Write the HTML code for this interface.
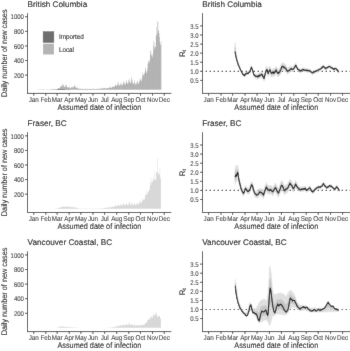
<!DOCTYPE html>
<html><head><meta charset="utf-8"><style>
html,body{margin:0;padding:0;background:#fff;overflow:hidden}
svg{display:block;font-family:"Liberation Sans", sans-serif;filter:grayscale(1);text-rendering:geometricPrecision}
</style></head><body>
<svg width="350" height="351" viewBox="0 0 350 351">
<defs><filter id="bl" x="0" y="0" width="350" height="351" filterUnits="userSpaceOnUse"><feConvolveMatrix order="3" kernelMatrix="0.0052 0.0619 0.0052 0.0619 0.7314 0.0619 0.0052 0.0619 0.0052" edgeMode="duplicate"/></filter></defs>
<g filter="url(#bl)">
<rect width="350" height="351" fill="#fff"/>
<text transform="translate(27.60 7.00)" font-size="8.2" text-anchor="start" fill="#111" stroke="#111" stroke-width="0.12" >British Columbia</text>
<path d="M37.47 89.65h0.35v-0.08h-0.35zM37.86 89.65h0.35v-0.08h-0.35zM38.25 89.65h0.35v-0.11h-0.35zM38.64 89.65h0.35v-0.12h-0.35zM39.03 89.65h0.35v-0.16h-0.35zM39.42 89.65h0.35v-0.13h-0.35zM39.81 89.65h0.35v-0.10h-0.35zM40.20 89.65h0.35v-0.10h-0.35zM40.59 89.65h0.35v-0.10h-0.35zM40.98 89.65h0.35v-0.12h-0.35zM41.36 89.65h0.35v-0.15h-0.35zM41.75 89.65h0.35v-0.18h-0.35zM42.14 89.65h0.35v-0.15h-0.35zM42.53 89.65h0.35v-0.13h-0.35zM42.92 89.65h0.35v-0.11h-0.35zM43.31 89.65h0.35v-0.12h-0.35zM43.70 89.65h0.35v-0.15h-0.35zM44.09 89.65h0.35v-0.19h-0.35zM44.48 89.65h0.35v-0.22h-0.35zM44.87 89.65h0.35v-0.17h-0.35zM45.26 89.65h0.35v-0.15h-0.35zM45.65 89.65h0.35v-0.12h-0.35zM46.04 89.65h0.35v-0.15h-0.35zM46.43 89.65h0.35v-0.16h-0.35zM46.82 89.65h0.35v-0.20h-0.35zM47.21 89.65h0.35v-0.23h-0.35zM47.60 89.65h0.35v-0.19h-0.35zM47.99 89.65h0.35v-0.16h-0.35zM48.38 89.65h0.35v-0.14h-0.35zM48.77 89.65h0.35v-0.16h-0.35zM49.15 89.65h0.35v-0.19h-0.35zM49.54 89.65h0.35v-0.23h-0.35zM49.93 89.65h0.35v-0.28h-0.35zM50.32 89.65h0.35v-0.21h-0.35zM50.71 89.65h0.35v-0.17h-0.35zM51.10 89.65h0.35v-0.15h-0.35zM51.49 89.65h0.35v-0.18h-0.35zM51.88 89.65h0.35v-0.20h-0.35zM52.27 89.65h0.35v-0.25h-0.35zM52.66 89.65h0.35v-0.31h-0.35zM53.05 89.65h0.35v-0.24h-0.35zM53.44 89.65h0.35v-0.19h-0.35zM53.83 89.65h0.35v-0.18h-0.35zM54.22 89.65h0.35v-0.20h-0.35zM54.61 89.65h0.35v-0.22h-0.35zM55.00 89.65h0.35v-0.29h-0.35zM55.39 89.65h0.35v-0.33h-0.35zM55.78 89.65h0.35v-0.28h-0.35zM56.17 89.65h0.35v-0.34h-0.35zM56.56 89.65h0.35v-0.40h-0.35zM56.94 89.65h0.35v-0.61h-0.35zM57.33 89.65h0.35v-0.78h-0.35zM57.72 89.65h0.35v-1.19h-0.35zM58.11 89.65h0.35v-1.67h-0.35zM58.50 89.65h0.35v-1.42h-0.35zM58.89 89.65h0.35v-1.38h-0.35zM59.28 89.65h0.35v-1.37h-0.35zM59.67 89.65h0.35v-1.83h-0.35zM60.06 89.65h0.35v-2.44h-0.35zM60.45 89.65h0.35v-3.25h-0.35zM60.84 89.65h0.35v-4.33h-0.35zM61.23 89.65h0.35v-3.64h-0.35zM61.62 89.65h0.35v-3.31h-0.35zM62.01 89.65h0.35v-3.26h-0.35zM62.40 89.65h0.35v-6.51h-0.35zM62.79 89.65h0.35v-4.05h-0.35zM63.18 89.65h0.35v-4.75h-0.35zM63.57 89.65h0.35v-5.02h-0.35zM63.96 89.65h0.35v-3.35h-0.35zM64.35 89.65h0.35v-2.70h-0.35zM64.73 89.65h0.35v-2.35h-0.35zM65.12 89.65h0.35v-2.88h-0.35zM65.51 89.65h0.35v-5.04h-0.35zM65.90 89.65h0.35v-4.23h-0.35zM66.29 89.65h0.35v-4.54h-0.35zM66.68 89.65h0.35v-3.17h-0.35zM67.07 89.65h0.35v-2.33h-0.35zM67.46 89.65h0.35v-2.03h-0.35zM67.85 89.65h0.35v-1.84h-0.35zM68.24 89.65h0.35v-2.21h-0.35zM68.63 89.65h0.35v-2.53h-0.35zM69.02 89.65h0.35v-2.85h-0.35zM69.41 89.65h0.35v-2.20h-0.35zM69.80 89.65h0.35v-1.82h-0.35zM70.19 89.65h0.35v-1.47h-0.35zM70.58 89.65h0.35v-1.64h-0.35zM70.97 89.65h0.35v-2.02h-0.35zM71.36 89.65h0.35v-2.73h-0.35zM71.75 89.65h0.35v-2.94h-0.35zM72.14 89.65h0.35v-2.55h-0.35zM72.52 89.65h0.35v-2.06h-0.35zM72.91 89.65h0.35v-2.09h-0.35zM73.30 89.65h0.35v-2.41h-0.35zM73.69 89.65h0.35v-3.05h-0.35zM74.08 89.65h0.35v-3.72h-0.35zM74.47 89.65h0.35v-4.93h-0.35zM74.86 89.65h0.35v-3.60h-0.35zM75.25 89.65h0.35v-2.68h-0.35zM75.64 89.65h0.35v-2.16h-0.35zM76.03 89.65h0.35v-1.81h-0.35zM76.42 89.65h0.35v-1.80h-0.35zM76.81 89.65h0.35v-2.00h-0.35zM77.20 89.65h0.35v-2.13h-0.35zM77.59 89.65h0.35v-1.60h-0.35zM77.98 89.65h0.35v-1.13h-0.35zM78.37 89.65h0.35v-0.86h-0.35zM78.76 89.65h0.35v-0.78h-0.35zM79.15 89.65h0.35v-0.88h-0.35zM79.54 89.65h0.35v-1.04h-0.35zM79.93 89.65h0.35v-1.19h-0.35zM80.31 89.65h0.35v-0.96h-0.35zM80.70 89.65h0.35v-0.69h-0.35zM81.09 89.65h0.35v-0.58h-0.35zM81.48 89.65h0.35v-0.62h-0.35zM81.87 89.65h0.35v-0.73h-0.35zM82.26 89.65h0.35v-0.82h-0.35zM82.65 89.65h0.35v-1.07h-0.35zM83.04 89.65h0.35v-0.84h-0.35zM83.43 89.65h0.35v-0.66h-0.35zM83.82 89.65h0.35v-0.59h-0.35zM84.21 89.65h0.35v-0.60h-0.35zM84.60 89.65h0.35v-0.70h-0.35zM84.99 89.65h0.35v-0.82h-0.35zM85.38 89.65h0.35v-1.03h-0.35zM85.77 89.65h0.35v-0.76h-0.35zM86.16 89.65h0.35v-0.59h-0.35zM86.55 89.65h0.35v-0.55h-0.35zM86.94 89.65h0.35v-0.58h-0.35zM87.33 89.65h0.35v-0.69h-0.35zM87.72 89.65h0.35v-0.82h-0.35zM88.10 89.65h0.35v-0.95h-0.35zM88.49 89.65h0.35v-0.77h-0.35zM88.88 89.65h0.35v-0.59h-0.35zM89.27 89.65h0.35v-0.56h-0.35zM89.66 89.65h0.35v-0.57h-0.35zM90.05 89.65h0.35v-0.75h-0.35zM90.44 89.65h0.35v-0.88h-0.35zM90.83 89.65h0.35v-0.97h-0.35zM91.22 89.65h0.35v-0.78h-0.35zM91.61 89.65h0.35v-0.62h-0.35zM92.00 89.65h0.35v-0.56h-0.35zM92.39 89.65h0.35v-0.58h-0.35zM92.78 89.65h0.35v-0.74h-0.35zM93.17 89.65h0.35v-0.93h-0.35zM93.56 89.65h0.35v-1.01h-0.35zM93.95 89.65h0.35v-0.81h-0.35zM94.34 89.65h0.35v-0.59h-0.35zM94.73 89.65h0.35v-0.54h-0.35zM95.12 89.65h0.35v-0.60h-0.35zM95.51 89.65h0.35v-0.69h-0.35zM95.89 89.65h0.35v-0.91h-0.35zM96.28 89.65h0.35v-0.97h-0.35zM96.67 89.65h0.35v-0.76h-0.35zM97.06 89.65h0.35v-0.67h-0.35zM97.45 89.65h0.35v-0.60h-0.35zM97.84 89.65h0.35v-0.64h-0.35zM98.23 89.65h0.35v-0.82h-0.35zM98.62 89.65h0.35v-0.97h-0.35zM99.01 89.65h0.35v-1.26h-0.35zM99.40 89.65h0.35v-1.11h-0.35zM99.79 89.65h0.35v-0.88h-0.35zM100.18 89.65h0.35v-0.80h-0.35zM100.57 89.65h0.35v-0.84h-0.35zM100.96 89.65h0.35v-1.03h-0.35zM101.35 89.65h0.35v-1.27h-0.35zM101.74 89.65h0.35v-1.65h-0.35zM102.13 89.65h0.35v-1.32h-0.35zM102.52 89.65h0.35v-1.08h-0.35zM102.91 89.65h0.35v-0.95h-0.35zM103.30 89.65h0.35v-1.85h-0.35zM103.68 89.65h0.35v-1.29h-0.35zM104.07 89.65h0.35v-1.59h-0.35zM104.46 89.65h0.35v-1.80h-0.35zM104.85 89.65h0.35v-1.41h-0.35zM105.24 89.65h0.35v-1.13h-0.35zM105.63 89.65h0.35v-1.06h-0.35zM106.02 89.65h0.35v-1.11h-0.35zM106.41 89.65h0.35v-1.40h-0.35zM106.80 89.65h0.35v-1.75h-0.35zM107.19 89.65h0.35v-2.02h-0.35zM107.58 89.65h0.35v-1.67h-0.35zM107.97 89.65h0.35v-1.39h-0.35zM108.36 89.65h0.35v-1.30h-0.35zM108.75 89.65h0.35v-1.55h-0.35zM109.14 89.65h0.35v-1.95h-0.35zM109.53 89.65h0.35v-2.33h-0.35zM109.92 89.65h0.35v-3.00h-0.35zM110.31 89.65h0.35v-2.51h-0.35zM110.70 89.65h0.35v-2.01h-0.35zM111.09 89.65h0.35v-1.74h-0.35zM111.47 89.65h0.35v-1.89h-0.35zM111.86 89.65h0.35v-2.28h-0.35zM112.25 89.65h0.35v-2.88h-0.35zM112.64 89.65h0.35v-3.45h-0.35zM113.03 89.65h0.35v-3.12h-0.35zM113.42 89.65h0.35v-2.69h-0.35zM113.81 89.65h0.35v-2.58h-0.35zM114.20 89.65h0.35v-2.80h-0.35zM114.59 89.65h0.35v-3.54h-0.35zM114.98 89.65h0.35v-4.69h-0.35zM115.37 89.65h0.35v-5.21h-0.35zM115.76 89.65h0.35v-4.74h-0.35zM116.15 89.65h0.35v-3.98h-0.35zM116.54 89.65h0.35v-3.70h-0.35zM116.93 89.65h0.35v-4.12h-0.35zM117.32 89.65h0.35v-4.83h-0.35zM117.71 89.65h0.35v-7.46h-0.35zM118.10 89.65h0.35v-7.51h-0.35zM118.49 89.65h0.35v-5.58h-0.35zM118.88 89.65h0.35v-4.55h-0.35zM119.26 89.65h0.35v-4.15h-0.35zM119.65 89.65h0.35v-4.07h-0.35zM120.04 89.65h0.35v-4.69h-0.35zM120.43 89.65h0.35v-6.12h-0.35zM120.82 89.65h0.35v-7.14h-0.35zM121.21 89.65h0.35v-5.47h-0.35zM121.60 89.65h0.35v-4.35h-0.35zM121.99 89.65h0.35v-4.06h-0.35zM122.38 89.65h0.35v-4.95h-0.35zM122.77 89.65h0.35v-5.87h-0.35zM123.16 89.65h0.35v-6.78h-0.35zM123.55 89.65h0.35v-8.87h-0.35zM123.94 89.65h0.35v-7.35h-0.35zM124.33 89.65h0.35v-5.53h-0.35zM124.72 89.65h0.35v-4.85h-0.35zM125.11 89.65h0.35v-5.40h-0.35zM125.50 89.65h0.35v-6.02h-0.35zM125.89 89.65h0.35v-7.36h-0.35zM126.28 89.65h0.35v-9.91h-0.35zM126.67 89.65h0.35v-7.83h-0.35zM127.05 89.65h0.35v-6.14h-0.35zM127.44 89.65h0.35v-6.01h-0.35zM127.83 89.65h0.35v-6.20h-0.35zM128.22 89.65h0.35v-7.86h-0.35zM128.61 89.65h0.35v-9.85h-0.35zM129.00 89.65h0.35v-10.75h-0.35zM129.39 89.65h0.35v-8.79h-0.35zM129.78 89.65h0.35v-6.97h-0.35zM130.17 89.65h0.35v-6.35h-0.35zM130.56 89.65h0.35v-7.24h-0.35zM130.95 89.65h0.35v-8.21h-0.35zM131.34 89.65h0.35v-12.73h-0.35zM131.73 89.65h0.35v-11.14h-0.35zM132.12 89.65h0.35v-9.42h-0.35zM132.51 89.65h0.35v-6.44h-0.35zM132.90 89.65h0.35v-5.58h-0.35zM133.29 89.65h0.35v-5.74h-0.35zM133.68 89.65h0.35v-6.57h-0.35zM134.07 89.65h0.35v-7.29h-0.35zM134.46 89.65h0.35v-9.14h-0.35zM134.84 89.65h0.35v-6.99h-0.35zM135.23 89.65h0.35v-5.49h-0.35zM135.62 89.65h0.35v-5.00h-0.35zM136.01 89.65h0.35v-5.04h-0.35zM136.40 89.65h0.35v-6.29h-0.35zM136.79 89.65h0.35v-7.53h-0.35zM137.18 89.65h0.35v-8.65h-0.35zM137.57 89.65h0.35v-8.03h-0.35zM137.96 89.65h0.35v-5.94h-0.35zM138.35 89.65h0.35v-5.80h-0.35zM138.74 89.65h0.35v-6.66h-0.35zM139.13 89.65h0.35v-7.86h-0.35zM139.52 89.65h0.35v-9.68h-0.35zM139.91 89.65h0.35v-11.93h-0.35zM140.30 89.65h0.35v-10.00h-0.35zM140.69 89.65h0.35v-8.82h-0.35zM141.08 89.65h0.35v-8.03h-0.35zM141.47 89.65h0.35v-9.79h-0.35zM141.86 89.65h0.35v-11.34h-0.35zM142.25 89.65h0.35v-14.14h-0.35zM142.63 89.65h0.35v-17.81h-0.35zM143.02 89.65h0.35v-15.47h-0.35zM143.41 89.65h0.35v-14.14h-0.35zM143.80 89.65h0.35v-14.56h-0.35zM144.19 89.65h0.35v-16.18h-0.35zM144.58 89.65h0.35v-17.16h-0.35zM144.97 89.65h0.35v-22.10h-0.35zM145.36 89.65h0.35v-20.94h-0.35zM145.75 89.65h0.35v-18.68h-0.35zM146.14 89.65h0.35v-17.11h-0.35zM146.53 89.65h0.35v-16.62h-0.35zM146.92 89.65h0.35v-18.63h-0.35zM147.31 89.65h0.35v-21.04h-0.35zM147.70 89.65h0.35v-25.97h-0.35zM148.09 89.65h0.35v-28.67h-0.35zM148.48 89.65h0.35v-28.50h-0.35zM148.87 89.65h0.35v-28.01h-0.35zM149.26 89.65h0.35v-26.36h-0.35zM149.65 89.65h0.35v-29.79h-0.35zM150.04 89.65h0.35v-34.94h-0.35zM150.42 89.65h0.35v-39.39h-0.35zM150.81 89.65h0.35v-38.59h-0.35zM151.20 89.65h0.35v-35.36h-0.35zM151.59 89.65h0.35v-33.99h-0.35zM151.98 89.65h0.35v-31.80h-0.35zM152.37 89.65h0.35v-34.05h-0.35zM152.76 89.65h0.35v-35.86h-0.35zM153.15 89.65h0.35v-43.36h-0.35zM153.54 89.65h0.35v-48.92h-0.35zM153.93 89.65h0.35v-46.98h-0.35zM154.32 89.65h0.35v-40.22h-0.35zM154.71 89.65h0.35v-42.32h-0.35zM155.10 89.65h0.35v-43.27h-0.35zM155.49 89.65h0.35v-42.84h-0.35zM155.88 89.65h0.35v-54.01h-0.35zM156.27 89.65h0.35v-62.62h-0.35zM156.66 89.65h0.35v-54.49h-0.35zM157.05 89.65h0.35v-56.33h-0.35zM157.44 89.65h0.35v-68.24h-0.35zM157.83 89.65h0.35v-67.93h-0.35zM158.21 89.65h0.35v-58.34h-0.35zM158.60 89.65h0.35v-59.70h-0.35zM158.99 89.65h0.35v-56.33h-0.35zM159.38 89.65h0.35v-52.79h-0.35zM159.77 89.65h0.35v-48.24h-0.35zM160.16 89.65h0.35v-45.19h-0.35zM160.55 89.65h0.35v-45.04h-0.35zM160.94 89.65h0.35v-48.33h-0.35z" fill="#aaaaaa"/>
<path d="M51.10 89.65h0.35v-0.02h-0.35zM51.49 89.65h0.35v-0.03h-0.35zM51.88 89.65h0.35v-0.03h-0.35zM52.27 89.65h0.35v-0.04h-0.35zM52.66 89.65h0.35v-0.05h-0.35zM53.05 89.65h0.35v-0.05h-0.35zM53.44 89.65h0.35v-0.06h-0.35zM53.83 89.65h0.35v-0.07h-0.35zM54.22 89.65h0.35v-0.07h-0.35zM54.61 89.65h0.35v-0.08h-0.35zM55.00 89.65h0.35v-0.09h-0.35zM55.39 89.65h0.35v-0.09h-0.35zM55.78 89.65h0.35v-0.10h-0.35zM56.17 89.65h0.35v-0.17h-0.35zM56.56 89.65h0.35v-0.25h-0.35zM56.94 89.65h0.35v-0.32h-0.35zM57.33 89.65h0.35v-0.40h-0.35zM57.72 89.65h0.35v-0.48h-0.35zM58.11 89.65h0.35v-0.51h-0.35zM58.50 89.65h0.35v-0.53h-0.35zM58.89 89.65h0.35v-0.55h-0.35zM59.28 89.65h0.35v-0.57h-0.35zM59.67 89.65h0.35v-0.59h-0.35zM60.06 89.65h0.35v-0.61h-0.35zM60.45 89.65h0.35v-0.63h-0.35zM60.84 89.65h0.35v-0.65h-0.35zM61.23 89.65h0.35v-0.67h-0.35zM61.62 89.65h0.35v-0.69h-0.35zM62.01 89.65h0.35v-0.68h-0.35zM62.40 89.65h0.35v-0.64h-0.35zM62.79 89.65h0.35v-0.60h-0.35zM63.18 89.65h0.35v-0.56h-0.35zM63.57 89.65h0.35v-0.53h-0.35zM63.96 89.65h0.35v-0.48h-0.35zM64.35 89.65h0.35v-0.43h-0.35zM64.73 89.65h0.35v-0.38h-0.35zM65.12 89.65h0.35v-0.33h-0.35zM65.51 89.65h0.35v-0.27h-0.35zM65.90 89.65h0.35v-0.22h-0.35zM66.29 89.65h0.35v-0.17h-0.35zM66.68 89.65h0.35v-0.12h-0.35zM67.07 89.65h0.35v-0.09h-0.35zM67.46 89.65h0.35v-0.08h-0.35zM67.85 89.65h0.35v-0.07h-0.35zM68.24 89.65h0.35v-0.05h-0.35zM68.63 89.65h0.35v-0.04h-0.35zM69.02 89.65h0.35v-0.03h-0.35z" fill="#666"/>
<line x1="27.50" y1="13.10" x2="27.50" y2="93.90" stroke="#4d4d4d" stroke-width="1" />
<line x1="27.00" y1="93.40" x2="171.30" y2="93.40" stroke="#4d4d4d" stroke-width="1" />
<line x1="25.10" y1="75.07" x2="27.50" y2="75.07" stroke="#333" stroke-width="0.9" />
<text transform="translate(23.90 77.77) scale(1.0 1.15)" font-size="6.0" text-anchor="end" fill="#404040" stroke="#404040" stroke-width="0.1" >200</text>
<line x1="25.10" y1="60.49" x2="27.50" y2="60.49" stroke="#333" stroke-width="0.9" />
<text transform="translate(23.90 63.19) scale(1.0 1.15)" font-size="6.0" text-anchor="end" fill="#404040" stroke="#404040" stroke-width="0.1" >400</text>
<line x1="25.10" y1="45.91" x2="27.50" y2="45.91" stroke="#333" stroke-width="0.9" />
<text transform="translate(23.90 48.61) scale(1.0 1.15)" font-size="6.0" text-anchor="end" fill="#404040" stroke="#404040" stroke-width="0.1" >600</text>
<line x1="25.10" y1="31.33" x2="27.50" y2="31.33" stroke="#333" stroke-width="0.9" />
<text transform="translate(23.90 34.03) scale(1.0 1.15)" font-size="6.0" text-anchor="end" fill="#404040" stroke="#404040" stroke-width="0.1" >800</text>
<line x1="25.10" y1="16.75" x2="27.50" y2="16.75" stroke="#333" stroke-width="0.9" />
<text transform="translate(23.90 19.45) scale(1.0 1.15)" font-size="6.0" text-anchor="end" fill="#404040" stroke="#404040" stroke-width="0.1" >1000</text>
<line x1="33.75" y1="93.40" x2="33.75" y2="95.70" stroke="#333" stroke-width="0.9" />
<text transform="translate(33.75 101.80) scale(1.0 1.12)" font-size="6.25" text-anchor="middle" fill="#404040" stroke="#404040" stroke-width="0.1" >Jan</text>
<line x1="45.82" y1="93.40" x2="45.82" y2="95.70" stroke="#333" stroke-width="0.9" />
<text transform="translate(45.82 101.80) scale(1.0 1.12)" font-size="6.25" text-anchor="middle" fill="#404040" stroke="#404040" stroke-width="0.1" >Feb</text>
<line x1="57.12" y1="93.40" x2="57.12" y2="95.70" stroke="#333" stroke-width="0.9" />
<text transform="translate(57.12 101.80) scale(1.0 1.12)" font-size="6.25" text-anchor="middle" fill="#404040" stroke="#404040" stroke-width="0.1" >Mar</text>
<line x1="69.19" y1="93.40" x2="69.19" y2="95.70" stroke="#333" stroke-width="0.9" />
<text transform="translate(69.19 101.80) scale(1.0 1.12)" font-size="6.25" text-anchor="middle" fill="#404040" stroke="#404040" stroke-width="0.1" >Apr</text>
<line x1="80.88" y1="93.40" x2="80.88" y2="95.70" stroke="#333" stroke-width="0.9" />
<text transform="translate(80.88 101.80) scale(1.0 1.12)" font-size="6.25" text-anchor="middle" fill="#404040" stroke="#404040" stroke-width="0.1" >May</text>
<line x1="92.95" y1="93.40" x2="92.95" y2="95.70" stroke="#333" stroke-width="0.9" />
<text transform="translate(92.95 101.80) scale(1.0 1.12)" font-size="6.25" text-anchor="middle" fill="#404040" stroke="#404040" stroke-width="0.1" >Jun</text>
<line x1="104.64" y1="93.40" x2="104.64" y2="95.70" stroke="#333" stroke-width="0.9" />
<text transform="translate(104.64 101.80) scale(1.0 1.12)" font-size="6.25" text-anchor="middle" fill="#404040" stroke="#404040" stroke-width="0.1" >Jul</text>
<line x1="116.71" y1="93.40" x2="116.71" y2="95.70" stroke="#333" stroke-width="0.9" />
<text transform="translate(116.71 101.80) scale(1.0 1.12)" font-size="6.25" text-anchor="middle" fill="#404040" stroke="#404040" stroke-width="0.1" >Aug</text>
<line x1="128.79" y1="93.40" x2="128.79" y2="95.70" stroke="#333" stroke-width="0.9" />
<text transform="translate(128.79 101.80) scale(1.0 1.12)" font-size="6.25" text-anchor="middle" fill="#404040" stroke="#404040" stroke-width="0.1" >Sep</text>
<line x1="140.47" y1="93.40" x2="140.47" y2="95.70" stroke="#333" stroke-width="0.9" />
<text transform="translate(140.47 101.80) scale(1.0 1.12)" font-size="6.25" text-anchor="middle" fill="#404040" stroke="#404040" stroke-width="0.1" >Oct</text>
<line x1="152.55" y1="93.40" x2="152.55" y2="95.70" stroke="#333" stroke-width="0.9" />
<text transform="translate(152.55 101.80) scale(1.0 1.12)" font-size="6.25" text-anchor="middle" fill="#404040" stroke="#404040" stroke-width="0.1" >Nov</text>
<line x1="164.23" y1="93.40" x2="164.23" y2="95.70" stroke="#333" stroke-width="0.9" />
<text transform="translate(164.23 101.80) scale(1.0 1.12)" font-size="6.25" text-anchor="middle" fill="#404040" stroke="#404040" stroke-width="0.1" >Dec</text>
<text transform="translate(99.40 110.20) scale(1.0 1.12)" font-size="7.3" text-anchor="middle" fill="#111" stroke="#111" stroke-width="0.06" >Assumed date of infection</text>
<text transform="translate(6.60 53.25) rotate(-90) scale(1.0 1.12)" font-size="7.3" text-anchor="middle" fill="#111" stroke="#111" stroke-width="0.06" >Daily number of new cases</text>
<rect x="43.1" y="31.60" width="10.8" height="10.9" fill="#6e6e6e" stroke="#5a5a5a" stroke-width="0.4"/>
<rect x="43.1" y="43.70" width="10.8" height="10.8" fill="#b4b4b4"/>
<text transform="translate(58.90 39.00) scale(1.0 1.1)" font-size="6.3" text-anchor="start" fill="#222" stroke="#222" stroke-width="0.1" >Imported</text>
<text transform="translate(58.90 51.60) scale(1.0 1.1)" font-size="6.3" text-anchor="start" fill="#222" stroke="#222" stroke-width="0.1" >Local</text>
<text transform="translate(27.60 126.10)" font-size="8.2" text-anchor="start" fill="#111" stroke="#111" stroke-width="0.12" >Fraser, BC</text>
<path d="M39.81 208.75h0.35v-0.03h-0.35zM40.20 208.75h0.35v-0.03h-0.35zM40.59 208.75h0.35v-0.03h-0.35zM40.98 208.75h0.35v-0.04h-0.35zM41.36 208.75h0.35v-0.05h-0.35zM41.75 208.75h0.35v-0.06h-0.35zM42.14 208.75h0.35v-0.05h-0.35zM42.53 208.75h0.35v-0.04h-0.35zM42.92 208.75h0.35v-0.04h-0.35zM43.31 208.75h0.35v-0.05h-0.35zM43.70 208.75h0.35v-0.05h-0.35zM44.09 208.75h0.35v-0.07h-0.35zM44.48 208.75h0.35v-0.08h-0.35zM44.87 208.75h0.35v-0.06h-0.35zM45.26 208.75h0.35v-0.05h-0.35zM45.65 208.75h0.35v-0.05h-0.35zM46.04 208.75h0.35v-0.05h-0.35zM46.43 208.75h0.35v-0.06h-0.35zM46.82 208.75h0.35v-0.08h-0.35zM47.21 208.75h0.35v-0.10h-0.35zM47.60 208.75h0.35v-0.08h-0.35zM47.99 208.75h0.35v-0.06h-0.35zM48.38 208.75h0.35v-0.06h-0.35zM48.77 208.75h0.35v-0.07h-0.35zM49.15 208.75h0.35v-0.08h-0.35zM49.54 208.75h0.35v-0.10h-0.35zM49.93 208.75h0.35v-0.11h-0.35zM50.32 208.75h0.35v-0.09h-0.35zM50.71 208.75h0.35v-0.08h-0.35zM51.10 208.75h0.35v-0.07h-0.35zM51.49 208.75h0.35v-0.07h-0.35zM51.88 208.75h0.35v-0.09h-0.35zM52.27 208.75h0.35v-0.11h-0.35zM52.66 208.75h0.35v-0.14h-0.35zM53.05 208.75h0.35v-0.10h-0.35zM53.44 208.75h0.35v-0.09h-0.35zM53.83 208.75h0.35v-0.07h-0.35zM54.22 208.75h0.35v-0.09h-0.35zM54.61 208.75h0.35v-0.10h-0.35zM55.00 208.75h0.35v-0.12h-0.35zM55.39 208.75h0.35v-0.15h-0.35zM55.78 208.75h0.35v-0.13h-0.35zM56.17 208.75h0.35v-0.17h-0.35zM56.56 208.75h0.35v-0.23h-0.35zM56.94 208.75h0.35v-0.35h-0.35zM57.33 208.75h0.35v-0.50h-0.35zM57.72 208.75h0.35v-0.73h-0.35zM58.11 208.75h0.35v-1.00h-0.35zM58.50 208.75h0.35v-0.90h-0.35zM58.89 208.75h0.35v-0.82h-0.35zM59.28 208.75h0.35v-0.85h-0.35zM59.67 208.75h0.35v-1.01h-0.35zM60.06 208.75h0.35v-1.37h-0.35zM60.45 208.75h0.35v-1.73h-0.35zM60.84 208.75h0.35v-2.24h-0.35zM61.23 208.75h0.35v-1.85h-0.35zM61.62 208.75h0.35v-1.57h-0.35zM62.01 208.75h0.35v-1.41h-0.35zM62.40 208.75h0.35v-1.57h-0.35zM62.79 208.75h0.35v-1.79h-0.35zM63.18 208.75h0.35v-2.44h-0.35zM63.57 208.75h0.35v-2.79h-0.35zM63.96 208.75h0.35v-2.14h-0.35zM64.35 208.75h0.35v-1.74h-0.35zM64.73 208.75h0.35v-1.68h-0.35zM65.12 208.75h0.35v-1.62h-0.35zM65.51 208.75h0.35v-2.10h-0.35zM65.90 208.75h0.35v-2.98h-0.35zM66.29 208.75h0.35v-2.84h-0.35zM66.68 208.75h0.35v-2.34h-0.35zM67.07 208.75h0.35v-1.69h-0.35zM67.46 208.75h0.35v-1.53h-0.35zM67.85 208.75h0.35v-1.65h-0.35zM68.24 208.75h0.35v-1.97h-0.35zM68.63 208.75h0.35v-2.19h-0.35zM69.02 208.75h0.35v-2.68h-0.35zM69.41 208.75h0.35v-2.08h-0.35zM69.80 208.75h0.35v-1.57h-0.35zM70.19 208.75h0.35v-1.35h-0.35zM70.58 208.75h0.35v-1.41h-0.35zM70.97 208.75h0.35v-1.54h-0.35zM71.36 208.75h0.35v-1.88h-0.35zM71.75 208.75h0.35v-2.12h-0.35zM72.14 208.75h0.35v-1.82h-0.35zM72.52 208.75h0.35v-1.29h-0.35zM72.91 208.75h0.35v-1.13h-0.35zM73.30 208.75h0.35v-1.17h-0.35zM73.69 208.75h0.35v-1.47h-0.35zM74.08 208.75h0.35v-1.77h-0.35zM74.47 208.75h0.35v-1.96h-0.35zM74.86 208.75h0.35v-1.44h-0.35zM75.25 208.75h0.35v-1.02h-0.35zM75.64 208.75h0.35v-0.84h-0.35zM76.03 208.75h0.35v-0.83h-0.35zM76.42 208.75h0.35v-0.82h-0.35zM76.81 208.75h0.35v-0.91h-0.35zM77.20 208.75h0.35v-0.88h-0.35zM77.59 208.75h0.35v-0.69h-0.35zM77.98 208.75h0.35v-0.48h-0.35zM78.37 208.75h0.35v-0.37h-0.35zM78.76 208.75h0.35v-0.33h-0.35zM79.15 208.75h0.35v-0.37h-0.35zM79.54 208.75h0.35v-0.35h-0.35zM79.93 208.75h0.35v-0.35h-0.35zM80.31 208.75h0.35v-0.26h-0.35zM80.70 208.75h0.35v-0.22h-0.35zM81.09 208.75h0.35v-0.20h-0.35zM81.48 208.75h0.35v-0.21h-0.35zM81.87 208.75h0.35v-0.24h-0.35zM82.26 208.75h0.35v-0.31h-0.35zM82.65 208.75h0.35v-0.33h-0.35zM83.04 208.75h0.35v-0.27h-0.35zM83.43 208.75h0.35v-0.21h-0.35zM83.82 208.75h0.35v-0.20h-0.35zM84.21 208.75h0.35v-0.20h-0.35zM84.60 208.75h0.35v-0.23h-0.35zM84.99 208.75h0.35v-0.30h-0.35zM85.38 208.75h0.35v-0.34h-0.35zM85.77 208.75h0.35v-0.29h-0.35zM86.16 208.75h0.35v-0.22h-0.35zM86.55 208.75h0.35v-0.21h-0.35zM86.94 208.75h0.35v-0.22h-0.35zM87.33 208.75h0.35v-0.26h-0.35zM87.72 208.75h0.35v-0.32h-0.35zM88.10 208.75h0.35v-0.35h-0.35zM88.49 208.75h0.35v-0.28h-0.35zM88.88 208.75h0.35v-0.23h-0.35zM89.27 208.75h0.35v-0.19h-0.35zM89.66 208.75h0.35v-0.22h-0.35zM90.05 208.75h0.35v-0.25h-0.35zM90.44 208.75h0.35v-0.29h-0.35zM90.83 208.75h0.35v-0.37h-0.35zM91.22 208.75h0.35v-0.30h-0.35zM91.61 208.75h0.35v-0.22h-0.35zM92.00 208.75h0.35v-0.20h-0.35zM92.39 208.75h0.35v-0.22h-0.35zM92.78 208.75h0.35v-0.24h-0.35zM93.17 208.75h0.35v-0.31h-0.35zM93.56 208.75h0.35v-0.35h-0.35zM93.95 208.75h0.35v-0.30h-0.35zM94.34 208.75h0.35v-0.23h-0.35zM94.73 208.75h0.35v-0.21h-0.35zM95.12 208.75h0.35v-0.22h-0.35zM95.51 208.75h0.35v-0.26h-0.35zM95.89 208.75h0.35v-0.31h-0.35zM96.28 208.75h0.35v-0.36h-0.35zM96.67 208.75h0.35v-0.27h-0.35zM97.06 208.75h0.35v-0.21h-0.35zM97.45 208.75h0.35v-0.19h-0.35zM97.84 208.75h0.35v-0.21h-0.35zM98.23 208.75h0.35v-0.24h-0.35zM98.62 208.75h0.35v-0.32h-0.35zM99.01 208.75h0.35v-0.36h-0.35zM99.40 208.75h0.35v-0.29h-0.35zM99.79 208.75h0.35v-0.22h-0.35zM100.18 208.75h0.35v-0.23h-0.35zM100.57 208.75h0.35v-0.28h-0.35zM100.96 208.75h0.35v-0.34h-0.35zM101.35 208.75h0.35v-0.52h-0.35zM101.74 208.75h0.35v-0.66h-0.35zM102.13 208.75h0.35v-0.56h-0.35zM102.52 208.75h0.35v-0.47h-0.35zM102.91 208.75h0.35v-0.47h-0.35zM103.30 208.75h0.35v-0.50h-0.35zM103.68 208.75h0.35v-0.68h-0.35zM104.07 208.75h0.35v-0.83h-0.35zM104.46 208.75h0.35v-0.99h-0.35zM104.85 208.75h0.35v-0.86h-0.35zM105.24 208.75h0.35v-0.75h-0.35zM105.63 208.75h0.35v-0.66h-0.35zM106.02 208.75h0.35v-0.80h-0.35zM106.41 208.75h0.35v-1.01h-0.35zM106.80 208.75h0.35v-1.23h-0.35zM107.19 208.75h0.35v-1.49h-0.35zM107.58 208.75h0.35v-1.27h-0.35zM107.97 208.75h0.35v-1.06h-0.35zM108.36 208.75h0.35v-1.02h-0.35zM108.75 208.75h0.35v-1.11h-0.35zM109.14 208.75h0.35v-1.36h-0.35zM109.53 208.75h0.35v-1.61h-0.35zM109.92 208.75h0.35v-1.97h-0.35zM110.31 208.75h0.35v-1.66h-0.35zM110.70 208.75h0.35v-1.42h-0.35zM111.09 208.75h0.35v-1.26h-0.35zM111.47 208.75h0.35v-1.44h-0.35zM111.86 208.75h0.35v-1.61h-0.35zM112.25 208.75h0.35v-2.05h-0.35zM112.64 208.75h0.35v-2.54h-0.35zM113.03 208.75h0.35v-2.25h-0.35zM113.42 208.75h0.35v-1.84h-0.35zM113.81 208.75h0.35v-1.75h-0.35zM114.20 208.75h0.35v-1.86h-0.35zM114.59 208.75h0.35v-2.34h-0.35zM114.98 208.75h0.35v-2.98h-0.35zM115.37 208.75h0.35v-3.62h-0.35zM115.76 208.75h0.35v-2.87h-0.35zM116.15 208.75h0.35v-2.56h-0.35zM116.54 208.75h0.35v-2.19h-0.35zM116.93 208.75h0.35v-2.70h-0.35zM117.32 208.75h0.35v-3.24h-0.35zM117.71 208.75h0.35v-3.63h-0.35zM118.10 208.75h0.35v-4.58h-0.35zM118.49 208.75h0.35v-3.89h-0.35zM118.88 208.75h0.35v-3.11h-0.35zM119.26 208.75h0.35v-2.66h-0.35zM119.65 208.75h0.35v-2.82h-0.35zM120.04 208.75h0.35v-3.30h-0.35zM120.43 208.75h0.35v-4.53h-0.35zM120.82 208.75h0.35v-4.83h-0.35zM121.21 208.75h0.35v-4.11h-0.35zM121.60 208.75h0.35v-3.04h-0.35zM121.99 208.75h0.35v-2.93h-0.35zM122.38 208.75h0.35v-3.37h-0.35zM122.77 208.75h0.35v-3.57h-0.35zM123.16 208.75h0.35v-4.88h-0.35zM123.55 208.75h0.35v-5.51h-0.35zM123.94 208.75h0.35v-4.70h-0.35zM124.33 208.75h0.35v-3.60h-0.35zM124.72 208.75h0.35v-3.09h-0.35zM125.11 208.75h0.35v-3.67h-0.35zM125.50 208.75h0.35v-4.10h-0.35zM125.89 208.75h0.35v-4.78h-0.35zM126.28 208.75h0.35v-5.59h-0.35zM126.67 208.75h0.35v-4.84h-0.35zM127.05 208.75h0.35v-3.77h-0.35zM127.44 208.75h0.35v-3.37h-0.35zM127.83 208.75h0.35v-3.56h-0.35zM128.22 208.75h0.35v-4.32h-0.35zM128.61 208.75h0.35v-5.33h-0.35zM129.00 208.75h0.35v-6.71h-0.35zM129.39 208.75h0.35v-6.71h-0.35zM129.78 208.75h0.35v-4.12h-0.35zM130.17 208.75h0.35v-3.73h-0.35zM130.56 208.75h0.35v-3.59h-0.35zM130.95 208.75h0.35v-4.62h-0.35zM131.34 208.75h0.35v-5.47h-0.35zM131.73 208.75h0.35v-6.45h-0.35zM132.12 208.75h0.35v-4.71h-0.35zM132.51 208.75h0.35v-3.65h-0.35zM132.90 208.75h0.35v-3.27h-0.35zM133.29 208.75h0.35v-3.77h-0.35zM133.68 208.75h0.35v-4.21h-0.35zM134.07 208.75h0.35v-5.07h-0.35zM134.46 208.75h0.35v-6.01h-0.35zM134.84 208.75h0.35v-4.75h-0.35zM135.23 208.75h0.35v-3.60h-0.35zM135.62 208.75h0.35v-3.31h-0.35zM136.01 208.75h0.35v-3.96h-0.35zM136.40 208.75h0.35v-4.33h-0.35zM136.79 208.75h0.35v-5.86h-0.35zM137.18 208.75h0.35v-6.30h-0.35zM137.57 208.75h0.35v-5.24h-0.35zM137.96 208.75h0.35v-4.36h-0.35zM138.35 208.75h0.35v-3.90h-0.35zM138.74 208.75h0.35v-4.43h-0.35zM139.13 208.75h0.35v-5.77h-0.35zM139.52 208.75h0.35v-7.25h-0.35zM139.91 208.75h0.35v-8.61h-0.35zM140.30 208.75h0.35v-7.01h-0.35zM140.69 208.75h0.35v-6.02h-0.35zM141.08 208.75h0.35v-5.84h-0.35zM141.47 208.75h0.35v-6.18h-0.35zM141.86 208.75h0.35v-7.43h-0.35zM142.25 208.75h0.35v-8.21h-0.35zM142.63 208.75h0.35v-10.54h-0.35zM143.02 208.75h0.35v-9.17h-0.35zM143.41 208.75h0.35v-8.70h-0.35zM143.80 208.75h0.35v-8.69h-0.35zM144.19 208.75h0.35v-9.13h-0.35zM144.58 208.75h0.35v-10.07h-0.35zM144.97 208.75h0.35v-13.22h-0.35zM145.36 208.75h0.35v-13.77h-0.35zM145.75 208.75h0.35v-14.02h-0.35zM146.14 208.75h0.35v-13.38h-0.35zM146.53 208.75h0.35v-18.12h-0.35zM146.92 208.75h0.35v-14.85h-0.35zM147.31 208.75h0.35v-15.91h-0.35zM147.70 208.75h0.35v-15.44h-0.35zM148.09 208.75h0.35v-17.55h-0.35zM148.48 208.75h0.35v-17.22h-0.35zM148.87 208.75h0.35v-18.12h-0.35zM149.26 208.75h0.35v-18.93h-0.35zM149.65 208.75h0.35v-20.53h-0.35zM150.04 208.75h0.35v-23.50h-0.35zM150.42 208.75h0.35v-26.36h-0.35zM150.81 208.75h0.35v-31.30h-0.35zM151.20 208.75h0.35v-27.35h-0.35zM151.59 208.75h0.35v-24.30h-0.35zM151.98 208.75h0.35v-26.18h-0.35zM152.37 208.75h0.35v-27.60h-0.35zM152.76 208.75h0.35v-27.63h-0.35zM153.15 208.75h0.35v-29.20h-0.35zM153.54 208.75h0.35v-32.00h-0.35zM153.93 208.75h0.35v-29.59h-0.35zM154.32 208.75h0.35v-28.76h-0.35zM154.71 208.75h0.35v-37.80h-0.35zM155.10 208.75h0.35v-28.15h-0.35zM155.49 208.75h0.35v-28.34h-0.35zM155.88 208.75h0.35v-30.41h-0.35zM156.27 208.75h0.35v-36.31h-0.35zM156.66 208.75h0.35v-37.00h-0.35zM157.05 208.75h0.35v-36.17h-0.35zM157.44 208.75h0.35v-50.50h-0.35zM157.83 208.75h0.35v-36.87h-0.35zM158.21 208.75h0.35v-34.79h-0.35zM158.60 208.75h0.35v-33.90h-0.35zM158.99 208.75h0.35v-35.34h-0.35zM159.38 208.75h0.35v-33.88h-0.35zM159.77 208.75h0.35v-40.63h-0.35zM160.16 208.75h0.35v-29.61h-0.35zM160.55 208.75h0.35v-31.48h-0.35z" fill="#d3d3d3"/>
<line x1="27.50" y1="132.20" x2="27.50" y2="213.00" stroke="#4d4d4d" stroke-width="1" />
<line x1="27.00" y1="212.50" x2="171.30" y2="212.50" stroke="#4d4d4d" stroke-width="1" />
<line x1="25.10" y1="194.17" x2="27.50" y2="194.17" stroke="#333" stroke-width="0.9" />
<text transform="translate(23.90 196.87) scale(1.0 1.15)" font-size="6.0" text-anchor="end" fill="#404040" stroke="#404040" stroke-width="0.1" >200</text>
<line x1="25.10" y1="179.59" x2="27.50" y2="179.59" stroke="#333" stroke-width="0.9" />
<text transform="translate(23.90 182.29) scale(1.0 1.15)" font-size="6.0" text-anchor="end" fill="#404040" stroke="#404040" stroke-width="0.1" >400</text>
<line x1="25.10" y1="165.01" x2="27.50" y2="165.01" stroke="#333" stroke-width="0.9" />
<text transform="translate(23.90 167.71) scale(1.0 1.15)" font-size="6.0" text-anchor="end" fill="#404040" stroke="#404040" stroke-width="0.1" >600</text>
<line x1="25.10" y1="150.43" x2="27.50" y2="150.43" stroke="#333" stroke-width="0.9" />
<text transform="translate(23.90 153.13) scale(1.0 1.15)" font-size="6.0" text-anchor="end" fill="#404040" stroke="#404040" stroke-width="0.1" >800</text>
<line x1="25.10" y1="135.85" x2="27.50" y2="135.85" stroke="#333" stroke-width="0.9" />
<text transform="translate(23.90 138.55) scale(1.0 1.15)" font-size="6.0" text-anchor="end" fill="#404040" stroke="#404040" stroke-width="0.1" >1000</text>
<line x1="33.75" y1="212.50" x2="33.75" y2="214.80" stroke="#333" stroke-width="0.9" />
<text transform="translate(33.75 220.90) scale(1.0 1.12)" font-size="6.25" text-anchor="middle" fill="#404040" stroke="#404040" stroke-width="0.1" >Jan</text>
<line x1="45.82" y1="212.50" x2="45.82" y2="214.80" stroke="#333" stroke-width="0.9" />
<text transform="translate(45.82 220.90) scale(1.0 1.12)" font-size="6.25" text-anchor="middle" fill="#404040" stroke="#404040" stroke-width="0.1" >Feb</text>
<line x1="57.12" y1="212.50" x2="57.12" y2="214.80" stroke="#333" stroke-width="0.9" />
<text transform="translate(57.12 220.90) scale(1.0 1.12)" font-size="6.25" text-anchor="middle" fill="#404040" stroke="#404040" stroke-width="0.1" >Mar</text>
<line x1="69.19" y1="212.50" x2="69.19" y2="214.80" stroke="#333" stroke-width="0.9" />
<text transform="translate(69.19 220.90) scale(1.0 1.12)" font-size="6.25" text-anchor="middle" fill="#404040" stroke="#404040" stroke-width="0.1" >Apr</text>
<line x1="80.88" y1="212.50" x2="80.88" y2="214.80" stroke="#333" stroke-width="0.9" />
<text transform="translate(80.88 220.90) scale(1.0 1.12)" font-size="6.25" text-anchor="middle" fill="#404040" stroke="#404040" stroke-width="0.1" >May</text>
<line x1="92.95" y1="212.50" x2="92.95" y2="214.80" stroke="#333" stroke-width="0.9" />
<text transform="translate(92.95 220.90) scale(1.0 1.12)" font-size="6.25" text-anchor="middle" fill="#404040" stroke="#404040" stroke-width="0.1" >Jun</text>
<line x1="104.64" y1="212.50" x2="104.64" y2="214.80" stroke="#333" stroke-width="0.9" />
<text transform="translate(104.64 220.90) scale(1.0 1.12)" font-size="6.25" text-anchor="middle" fill="#404040" stroke="#404040" stroke-width="0.1" >Jul</text>
<line x1="116.71" y1="212.50" x2="116.71" y2="214.80" stroke="#333" stroke-width="0.9" />
<text transform="translate(116.71 220.90) scale(1.0 1.12)" font-size="6.25" text-anchor="middle" fill="#404040" stroke="#404040" stroke-width="0.1" >Aug</text>
<line x1="128.79" y1="212.50" x2="128.79" y2="214.80" stroke="#333" stroke-width="0.9" />
<text transform="translate(128.79 220.90) scale(1.0 1.12)" font-size="6.25" text-anchor="middle" fill="#404040" stroke="#404040" stroke-width="0.1" >Sep</text>
<line x1="140.47" y1="212.50" x2="140.47" y2="214.80" stroke="#333" stroke-width="0.9" />
<text transform="translate(140.47 220.90) scale(1.0 1.12)" font-size="6.25" text-anchor="middle" fill="#404040" stroke="#404040" stroke-width="0.1" >Oct</text>
<line x1="152.55" y1="212.50" x2="152.55" y2="214.80" stroke="#333" stroke-width="0.9" />
<text transform="translate(152.55 220.90) scale(1.0 1.12)" font-size="6.25" text-anchor="middle" fill="#404040" stroke="#404040" stroke-width="0.1" >Nov</text>
<line x1="164.23" y1="212.50" x2="164.23" y2="214.80" stroke="#333" stroke-width="0.9" />
<text transform="translate(164.23 220.90) scale(1.0 1.12)" font-size="6.25" text-anchor="middle" fill="#404040" stroke="#404040" stroke-width="0.1" >Dec</text>
<text transform="translate(99.40 229.30) scale(1.0 1.12)" font-size="7.3" text-anchor="middle" fill="#111" stroke="#111" stroke-width="0.06" >Assumed date of infection</text>
<text transform="translate(6.60 172.35) rotate(-90) scale(1.0 1.12)" font-size="7.3" text-anchor="middle" fill="#111" stroke="#111" stroke-width="0.06" >Daily number of new cases</text>
<text transform="translate(27.60 245.20)" font-size="8.2" text-anchor="start" fill="#111" stroke="#111" stroke-width="0.12" >Vancouver Coastal, BC</text>
<path d="M51.88 327.85h0.35v-0.02h-0.35zM52.27 327.85h0.35v-0.03h-0.35zM52.66 327.85h0.35v-0.03h-0.35zM53.05 327.85h0.35v-0.03h-0.35zM53.44 327.85h0.35v-0.02h-0.35zM53.83 327.85h0.35v-0.03h-0.35zM54.22 327.85h0.35v-0.03h-0.35zM54.61 327.85h0.35v-0.03h-0.35zM55.00 327.85h0.35v-0.04h-0.35zM55.39 327.85h0.35v-0.05h-0.35zM55.78 327.85h0.35v-0.05h-0.35zM56.17 327.85h0.35v-0.14h-0.35zM56.56 327.85h0.35v-0.21h-0.35zM56.94 327.85h0.35v-0.32h-0.35zM57.33 327.85h0.35v-0.52h-0.35zM57.72 327.85h0.35v-0.80h-0.35zM58.11 327.85h0.35v-1.02h-0.35zM58.50 327.85h0.35v-0.87h-0.35zM58.89 327.85h0.35v-0.77h-0.35zM59.28 327.85h0.35v-0.69h-0.35zM59.67 327.85h0.35v-0.82h-0.35zM60.06 327.85h0.35v-1.05h-0.35zM60.45 327.85h0.35v-1.46h-0.35zM60.84 327.85h0.35v-1.72h-0.35zM61.23 327.85h0.35v-1.50h-0.35zM61.62 327.85h0.35v-1.95h-0.35zM62.01 327.85h0.35v-0.98h-0.35zM62.40 327.85h0.35v-1.02h-0.35zM62.79 327.85h0.35v-1.26h-0.35zM63.18 327.85h0.35v-1.44h-0.35zM63.57 327.85h0.35v-1.52h-0.35zM63.96 327.85h0.35v-1.12h-0.35zM64.35 327.85h0.35v-0.89h-0.35zM64.73 327.85h0.35v-0.79h-0.35zM65.12 327.85h0.35v-0.78h-0.35zM65.51 327.85h0.35v-0.84h-0.35zM65.90 327.85h0.35v-1.05h-0.35zM66.29 327.85h0.35v-1.23h-0.35zM66.68 327.85h0.35v-0.87h-0.35zM67.07 327.85h0.35v-0.64h-0.35zM67.46 327.85h0.35v-0.59h-0.35zM67.85 327.85h0.35v-0.62h-0.35zM68.24 327.85h0.35v-0.73h-0.35zM68.63 327.85h0.35v-0.81h-0.35zM69.02 327.85h0.35v-0.99h-0.35zM69.41 327.85h0.35v-0.76h-0.35zM69.80 327.85h0.35v-0.55h-0.35zM70.19 327.85h0.35v-0.46h-0.35zM70.58 327.85h0.35v-0.53h-0.35zM70.97 327.85h0.35v-0.55h-0.35zM71.36 327.85h0.35v-0.70h-0.35zM71.75 327.85h0.35v-0.72h-0.35zM72.14 327.85h0.35v-0.55h-0.35zM72.52 327.85h0.35v-0.44h-0.35zM72.91 327.85h0.35v-0.36h-0.35zM73.30 327.85h0.35v-0.41h-0.35zM73.69 327.85h0.35v-0.43h-0.35zM74.08 327.85h0.35v-0.48h-0.35zM74.47 327.85h0.35v-0.54h-0.35zM74.86 327.85h0.35v-0.42h-0.35zM75.25 327.85h0.35v-0.32h-0.35zM75.64 327.85h0.35v-0.28h-0.35zM76.03 327.85h0.35v-0.26h-0.35zM76.42 327.85h0.35v-0.29h-0.35zM76.81 327.85h0.35v-0.33h-0.35zM77.20 327.85h0.35v-0.39h-0.35zM77.59 327.85h0.35v-0.26h-0.35zM77.98 327.85h0.35v-0.18h-0.35zM78.37 327.85h0.35v-0.15h-0.35zM78.76 327.85h0.35v-0.15h-0.35zM79.15 327.85h0.35v-0.16h-0.35zM79.54 327.85h0.35v-0.17h-0.35zM79.93 327.85h0.35v-0.18h-0.35zM80.31 327.85h0.35v-0.15h-0.35zM80.70 327.85h0.35v-0.11h-0.35zM81.09 327.85h0.35v-0.09h-0.35zM81.48 327.85h0.35v-0.10h-0.35zM81.87 327.85h0.35v-0.13h-0.35zM82.26 327.85h0.35v-0.15h-0.35zM82.65 327.85h0.35v-0.16h-0.35zM83.04 327.85h0.35v-0.14h-0.35zM83.43 327.85h0.35v-0.10h-0.35zM83.82 327.85h0.35v-0.09h-0.35zM84.21 327.85h0.35v-0.10h-0.35zM84.60 327.85h0.35v-0.11h-0.35zM84.99 327.85h0.35v-0.14h-0.35zM85.38 327.85h0.35v-0.17h-0.35zM85.77 327.85h0.35v-0.13h-0.35zM86.16 327.85h0.35v-0.11h-0.35zM86.55 327.85h0.35v-0.09h-0.35zM86.94 327.85h0.35v-0.11h-0.35zM87.33 327.85h0.35v-0.11h-0.35zM87.72 327.85h0.35v-0.14h-0.35zM88.10 327.85h0.35v-0.18h-0.35zM88.49 327.85h0.35v-0.14h-0.35zM88.88 327.85h0.35v-0.10h-0.35zM89.27 327.85h0.35v-0.09h-0.35zM89.66 327.85h0.35v-0.10h-0.35zM90.05 327.85h0.35v-0.12h-0.35zM90.44 327.85h0.35v-0.16h-0.35zM90.83 327.85h0.35v-0.16h-0.35zM91.22 327.85h0.35v-0.13h-0.35zM91.61 327.85h0.35v-0.11h-0.35zM92.00 327.85h0.35v-0.09h-0.35zM92.39 327.85h0.35v-0.10h-0.35zM92.78 327.85h0.35v-0.12h-0.35zM93.17 327.85h0.35v-0.15h-0.35zM93.56 327.85h0.35v-0.16h-0.35zM93.95 327.85h0.35v-0.13h-0.35zM94.34 327.85h0.35v-0.10h-0.35zM94.73 327.85h0.35v-0.10h-0.35zM95.12 327.85h0.35v-0.10h-0.35zM95.51 327.85h0.35v-0.12h-0.35zM95.89 327.85h0.35v-0.15h-0.35zM96.28 327.85h0.35v-0.17h-0.35zM96.67 327.85h0.35v-0.13h-0.35zM97.06 327.85h0.35v-0.11h-0.35zM97.45 327.85h0.35v-0.10h-0.35zM97.84 327.85h0.35v-0.10h-0.35zM98.23 327.85h0.35v-0.12h-0.35zM98.62 327.85h0.35v-0.14h-0.35zM99.01 327.85h0.35v-0.17h-0.35zM99.40 327.85h0.35v-0.13h-0.35zM99.79 327.85h0.35v-0.11h-0.35zM100.18 327.85h0.35v-0.10h-0.35zM100.57 327.85h0.35v-0.10h-0.35zM100.96 327.85h0.35v-0.13h-0.35zM101.35 327.85h0.35v-0.14h-0.35zM101.74 327.85h0.35v-0.16h-0.35zM102.13 327.85h0.35v-0.14h-0.35zM102.52 327.85h0.35v-0.11h-0.35zM102.91 327.85h0.35v-0.10h-0.35zM103.30 327.85h0.35v-0.10h-0.35zM103.68 327.85h0.35v-0.12h-0.35zM104.07 327.85h0.35v-0.15h-0.35zM104.46 327.85h0.35v-0.17h-0.35zM104.85 327.85h0.35v-0.15h-0.35zM105.24 327.85h0.35v-0.11h-0.35zM105.63 327.85h0.35v-0.12h-0.35zM106.02 327.85h0.35v-0.14h-0.35zM106.41 327.85h0.35v-0.18h-0.35zM106.80 327.85h0.35v-0.24h-0.35zM107.19 327.85h0.35v-0.29h-0.35zM107.58 327.85h0.35v-0.24h-0.35zM107.97 327.85h0.35v-0.20h-0.35zM108.36 327.85h0.35v-0.19h-0.35zM108.75 327.85h0.35v-0.23h-0.35zM109.14 327.85h0.35v-0.25h-0.35zM109.53 327.85h0.35v-0.33h-0.35zM109.92 327.85h0.35v-0.44h-0.35zM110.31 327.85h0.35v-0.34h-0.35zM110.70 327.85h0.35v-0.27h-0.35zM111.09 327.85h0.35v-0.25h-0.35zM111.47 327.85h0.35v-0.30h-0.35zM111.86 327.85h0.35v-0.38h-0.35zM112.25 327.85h0.35v-0.63h-0.35zM112.64 327.85h0.35v-0.86h-0.35zM113.03 327.85h0.35v-0.81h-0.35zM113.42 327.85h0.35v-0.65h-0.35zM113.81 327.85h0.35v-0.64h-0.35zM114.20 327.85h0.35v-0.75h-0.35zM114.59 327.85h0.35v-1.02h-0.35zM114.98 327.85h0.35v-1.39h-0.35zM115.37 327.85h0.35v-1.69h-0.35zM115.76 327.85h0.35v-1.41h-0.35zM116.15 327.85h0.35v-1.19h-0.35zM116.54 327.85h0.35v-1.18h-0.35zM116.93 327.85h0.35v-1.35h-0.35zM117.32 327.85h0.35v-1.68h-0.35zM117.71 327.85h0.35v-2.20h-0.35zM118.10 327.85h0.35v-2.60h-0.35zM118.49 327.85h0.35v-2.01h-0.35zM118.88 327.85h0.35v-1.79h-0.35zM119.26 327.85h0.35v-1.55h-0.35zM119.65 327.85h0.35v-1.79h-0.35zM120.04 327.85h0.35v-2.11h-0.35zM120.43 327.85h0.35v-2.81h-0.35zM120.82 327.85h0.35v-3.14h-0.35zM121.21 327.85h0.35v-2.61h-0.35zM121.60 327.85h0.35v-2.08h-0.35zM121.99 327.85h0.35v-1.91h-0.35zM122.38 327.85h0.35v-2.29h-0.35zM122.77 327.85h0.35v-2.59h-0.35zM123.16 327.85h0.35v-3.11h-0.35zM123.55 327.85h0.35v-3.69h-0.35zM123.94 327.85h0.35v-3.22h-0.35zM124.33 327.85h0.35v-2.37h-0.35zM124.72 327.85h0.35v-2.08h-0.35zM125.11 327.85h0.35v-2.44h-0.35zM125.50 327.85h0.35v-2.82h-0.35zM125.89 327.85h0.35v-3.73h-0.35zM126.28 327.85h0.35v-3.96h-0.35zM126.67 327.85h0.35v-3.43h-0.35zM127.05 327.85h0.35v-2.86h-0.35zM127.44 327.85h0.35v-2.66h-0.35zM127.83 327.85h0.35v-2.95h-0.35zM128.22 327.85h0.35v-3.13h-0.35zM128.61 327.85h0.35v-5.07h-0.35zM129.00 327.85h0.35v-5.08h-0.35zM129.39 327.85h0.35v-3.67h-0.35zM129.78 327.85h0.35v-3.08h-0.35zM130.17 327.85h0.35v-2.58h-0.35zM130.56 327.85h0.35v-2.81h-0.35zM130.95 327.85h0.35v-2.97h-0.35zM131.34 327.85h0.35v-3.79h-0.35zM131.73 327.85h0.35v-4.05h-0.35zM132.12 327.85h0.35v-3.07h-0.35zM132.51 327.85h0.35v-2.51h-0.35zM132.90 327.85h0.35v-2.29h-0.35zM133.29 327.85h0.35v-2.17h-0.35zM133.68 327.85h0.35v-2.69h-0.35zM134.07 327.85h0.35v-3.28h-0.35zM134.46 327.85h0.35v-3.57h-0.35zM134.84 327.85h0.35v-2.89h-0.35zM135.23 327.85h0.35v-2.14h-0.35zM135.62 327.85h0.35v-1.93h-0.35zM136.01 327.85h0.35v-2.08h-0.35zM136.40 327.85h0.35v-2.54h-0.35zM136.79 327.85h0.35v-3.15h-0.35zM137.18 327.85h0.35v-3.44h-0.35zM137.57 327.85h0.35v-2.68h-0.35zM137.96 327.85h0.35v-2.17h-0.35zM138.35 327.85h0.35v-2.06h-0.35zM138.74 327.85h0.35v-2.06h-0.35zM139.13 327.85h0.35v-2.45h-0.35zM139.52 327.85h0.35v-2.96h-0.35zM139.91 327.85h0.35v-3.73h-0.35zM140.30 327.85h0.35v-2.92h-0.35zM140.69 327.85h0.35v-2.19h-0.35zM141.08 327.85h0.35v-2.07h-0.35zM141.47 327.85h0.35v-2.33h-0.35zM141.86 327.85h0.35v-2.73h-0.35zM142.25 327.85h0.35v-3.26h-0.35zM142.63 327.85h0.35v-3.39h-0.35zM143.02 327.85h0.35v-2.94h-0.35zM143.41 327.85h0.35v-2.74h-0.35zM143.80 327.85h0.35v-2.79h-0.35zM144.19 327.85h0.35v-3.14h-0.35zM144.58 327.85h0.35v-3.72h-0.35zM144.97 327.85h0.35v-4.86h-0.35zM145.36 327.85h0.35v-5.15h-0.35zM145.75 327.85h0.35v-5.16h-0.35zM146.14 327.85h0.35v-4.92h-0.35zM146.53 327.85h0.35v-5.29h-0.35zM146.92 327.85h0.35v-6.27h-0.35zM147.31 327.85h0.35v-7.30h-0.35zM147.70 327.85h0.35v-7.85h-0.35zM148.09 327.85h0.35v-8.78h-0.35zM148.48 327.85h0.35v-9.17h-0.35zM148.87 327.85h0.35v-8.04h-0.35zM149.26 327.85h0.35v-7.78h-0.35zM149.65 327.85h0.35v-9.24h-0.35zM150.04 327.85h0.35v-9.40h-0.35zM150.42 327.85h0.35v-11.01h-0.35zM150.81 327.85h0.35v-11.41h-0.35zM151.20 327.85h0.35v-11.36h-0.35zM151.59 327.85h0.35v-10.16h-0.35zM151.98 327.85h0.35v-9.77h-0.35zM152.37 327.85h0.35v-10.12h-0.35zM152.76 327.85h0.35v-11.89h-0.35zM153.15 327.85h0.35v-13.46h-0.35zM153.54 327.85h0.35v-15.34h-0.35zM153.93 327.85h0.35v-12.77h-0.35zM154.32 327.85h0.35v-12.69h-0.35zM154.71 327.85h0.35v-12.04h-0.35zM155.10 327.85h0.35v-12.70h-0.35zM155.49 327.85h0.35v-16.15h-0.35zM155.88 327.85h0.35v-13.77h-0.35zM156.27 327.85h0.35v-14.74h-0.35zM156.66 327.85h0.35v-13.71h-0.35zM157.05 327.85h0.35v-10.85h-0.35zM157.44 327.85h0.35v-10.86h-0.35zM157.83 327.85h0.35v-11.39h-0.35zM158.21 327.85h0.35v-12.08h-0.35zM158.60 327.85h0.35v-11.62h-0.35zM158.99 327.85h0.35v-12.03h-0.35zM159.38 327.85h0.35v-11.89h-0.35zM159.77 327.85h0.35v-10.59h-0.35zM160.16 327.85h0.35v-9.43h-0.35zM160.55 327.85h0.35v-9.08h-0.35z" fill="#d3d3d3"/>
<line x1="27.50" y1="251.30" x2="27.50" y2="332.10" stroke="#4d4d4d" stroke-width="1" />
<line x1="27.00" y1="331.60" x2="171.30" y2="331.60" stroke="#4d4d4d" stroke-width="1" />
<line x1="25.10" y1="313.27" x2="27.50" y2="313.27" stroke="#333" stroke-width="0.9" />
<text transform="translate(23.90 315.97) scale(1.0 1.15)" font-size="6.0" text-anchor="end" fill="#404040" stroke="#404040" stroke-width="0.1" >200</text>
<line x1="25.10" y1="298.69" x2="27.50" y2="298.69" stroke="#333" stroke-width="0.9" />
<text transform="translate(23.90 301.39) scale(1.0 1.15)" font-size="6.0" text-anchor="end" fill="#404040" stroke="#404040" stroke-width="0.1" >400</text>
<line x1="25.10" y1="284.11" x2="27.50" y2="284.11" stroke="#333" stroke-width="0.9" />
<text transform="translate(23.90 286.81) scale(1.0 1.15)" font-size="6.0" text-anchor="end" fill="#404040" stroke="#404040" stroke-width="0.1" >600</text>
<line x1="25.10" y1="269.53" x2="27.50" y2="269.53" stroke="#333" stroke-width="0.9" />
<text transform="translate(23.90 272.23) scale(1.0 1.15)" font-size="6.0" text-anchor="end" fill="#404040" stroke="#404040" stroke-width="0.1" >800</text>
<line x1="25.10" y1="254.95" x2="27.50" y2="254.95" stroke="#333" stroke-width="0.9" />
<text transform="translate(23.90 257.65) scale(1.0 1.15)" font-size="6.0" text-anchor="end" fill="#404040" stroke="#404040" stroke-width="0.1" >1000</text>
<line x1="33.75" y1="331.60" x2="33.75" y2="333.90" stroke="#333" stroke-width="0.9" />
<text transform="translate(33.75 340.00) scale(1.0 1.12)" font-size="6.25" text-anchor="middle" fill="#404040" stroke="#404040" stroke-width="0.1" >Jan</text>
<line x1="45.82" y1="331.60" x2="45.82" y2="333.90" stroke="#333" stroke-width="0.9" />
<text transform="translate(45.82 340.00) scale(1.0 1.12)" font-size="6.25" text-anchor="middle" fill="#404040" stroke="#404040" stroke-width="0.1" >Feb</text>
<line x1="57.12" y1="331.60" x2="57.12" y2="333.90" stroke="#333" stroke-width="0.9" />
<text transform="translate(57.12 340.00) scale(1.0 1.12)" font-size="6.25" text-anchor="middle" fill="#404040" stroke="#404040" stroke-width="0.1" >Mar</text>
<line x1="69.19" y1="331.60" x2="69.19" y2="333.90" stroke="#333" stroke-width="0.9" />
<text transform="translate(69.19 340.00) scale(1.0 1.12)" font-size="6.25" text-anchor="middle" fill="#404040" stroke="#404040" stroke-width="0.1" >Apr</text>
<line x1="80.88" y1="331.60" x2="80.88" y2="333.90" stroke="#333" stroke-width="0.9" />
<text transform="translate(80.88 340.00) scale(1.0 1.12)" font-size="6.25" text-anchor="middle" fill="#404040" stroke="#404040" stroke-width="0.1" >May</text>
<line x1="92.95" y1="331.60" x2="92.95" y2="333.90" stroke="#333" stroke-width="0.9" />
<text transform="translate(92.95 340.00) scale(1.0 1.12)" font-size="6.25" text-anchor="middle" fill="#404040" stroke="#404040" stroke-width="0.1" >Jun</text>
<line x1="104.64" y1="331.60" x2="104.64" y2="333.90" stroke="#333" stroke-width="0.9" />
<text transform="translate(104.64 340.00) scale(1.0 1.12)" font-size="6.25" text-anchor="middle" fill="#404040" stroke="#404040" stroke-width="0.1" >Jul</text>
<line x1="116.71" y1="331.60" x2="116.71" y2="333.90" stroke="#333" stroke-width="0.9" />
<text transform="translate(116.71 340.00) scale(1.0 1.12)" font-size="6.25" text-anchor="middle" fill="#404040" stroke="#404040" stroke-width="0.1" >Aug</text>
<line x1="128.79" y1="331.60" x2="128.79" y2="333.90" stroke="#333" stroke-width="0.9" />
<text transform="translate(128.79 340.00) scale(1.0 1.12)" font-size="6.25" text-anchor="middle" fill="#404040" stroke="#404040" stroke-width="0.1" >Sep</text>
<line x1="140.47" y1="331.60" x2="140.47" y2="333.90" stroke="#333" stroke-width="0.9" />
<text transform="translate(140.47 340.00) scale(1.0 1.12)" font-size="6.25" text-anchor="middle" fill="#404040" stroke="#404040" stroke-width="0.1" >Oct</text>
<line x1="152.55" y1="331.60" x2="152.55" y2="333.90" stroke="#333" stroke-width="0.9" />
<text transform="translate(152.55 340.00) scale(1.0 1.12)" font-size="6.25" text-anchor="middle" fill="#404040" stroke="#404040" stroke-width="0.1" >Nov</text>
<line x1="164.23" y1="331.60" x2="164.23" y2="333.90" stroke="#333" stroke-width="0.9" />
<text transform="translate(164.23 340.00) scale(1.0 1.12)" font-size="6.25" text-anchor="middle" fill="#404040" stroke="#404040" stroke-width="0.1" >Dec</text>
<text transform="translate(99.40 348.40) scale(1.0 1.12)" font-size="7.3" text-anchor="middle" fill="#111" stroke="#111" stroke-width="0.06" >Assumed date of infection</text>
<text transform="translate(6.60 291.45) rotate(-90) scale(1.0 1.12)" font-size="7.3" text-anchor="middle" fill="#111" stroke="#111" stroke-width="0.06" >Daily number of new cases</text>
<text transform="translate(202.20 7.00)" font-size="8.2" text-anchor="start" fill="#111" stroke="#111" stroke-width="0.12" >British Columbia</text>
<line x1="201.70" y1="71.30" x2="350.00" y2="71.30" stroke="#111" stroke-width="1.15" stroke-dasharray="1.2 2.8"/>
<path d="M235.00 42.50 L235.70 48.90 L236.60 55.30 L237.70 60.45 L239.10 64.55 L240.50 68.39 L242.00 71.27 L243.40 73.26 L244.60 74.04 L245.70 72.13 L247.10 71.71 L248.50 71.36 L249.90 69.64 L251.40 65.41 L252.60 68.51 L253.90 72.89 L255.60 73.93 L257.30 74.24 L259.00 73.24 L260.80 72.14 L262.00 71.50 L264.10 75.17 L265.90 67.86 L267.00 66.09 L268.10 70.02 L269.90 65.91 L271.60 70.44 L273.30 68.07 L273.90 69.75 L276.10 66.27 L277.90 69.60 L279.60 68.43 L281.90 62.64 L283.60 63.19 L285.30 64.03 L287.60 68.36 L289.30 66.90 L291.00 66.02 L292.70 66.72 L294.40 65.23 L295.70 62.88 L297.70 66.92 L300.30 69.30 L302.50 67.73 L304.60 68.15 L307.20 68.67 L309.70 69.00 L312.30 71.13 L314.90 69.95 L317.40 69.08 L320.00 67.81 L323.40 64.84 L325.50 67.16 L328.90 64.90 L331.70 66.13 L333.70 67.95 L335.50 66.76 L337.50 68.98 L338.90 70.20 L338.90 73.00 L337.50 71.82 L335.50 69.64 L333.70 70.85 L331.70 69.07 L328.90 67.90 L325.50 70.24 L323.40 67.96 L320.00 70.99 L317.40 72.32 L314.90 73.25 L312.30 74.47 L309.70 72.40 L307.20 72.13 L304.60 71.65 L302.50 71.27 L300.30 72.90 L297.70 70.96 L295.70 67.30 L294.40 69.89 L292.70 71.71 L291.00 71.33 L289.30 72.60 L287.60 74.54 L285.30 70.87 L283.60 70.51 L281.90 70.10 L279.60 75.80 L277.90 76.90 L276.10 73.50 L273.90 76.90 L273.30 75.20 L271.60 77.50 L269.90 72.89 L268.10 76.78 L267.00 72.71 L265.90 74.34 L264.10 81.43 L262.00 77.50 L260.80 77.86 L259.00 78.56 L257.30 79.16 L255.60 78.47 L253.90 77.11 L252.60 72.49 L251.40 69.19 L249.90 73.16 L248.50 74.64 L247.10 74.89 L245.70 75.27 L244.60 77.16 L243.40 76.34 L242.00 74.33 L240.50 71.41 L239.10 68.00 L237.70 64.60 L236.60 60.60 L235.70 56.75 L235.00 53.50Z" fill="#dcdcdc" stroke="#dcdcdc" stroke-width="0.6" stroke-linejoin="round" opacity="0.9"/>
<path d="M235.00 47.45 L235.70 52.31 L236.60 57.39 L237.70 61.91 L239.10 65.62 L240.50 69.22 L242.00 72.11 L243.40 74.11 L244.60 74.90 L245.70 72.99 L247.10 72.59 L248.50 72.26 L249.90 70.61 L251.40 66.45 L252.60 69.60 L253.90 74.05 L255.60 75.18 L257.30 75.59 L259.00 74.70 L260.80 73.71 L262.00 73.15 L264.10 76.89 L265.90 69.64 L267.00 67.91 L268.10 71.88 L269.90 67.83 L271.60 72.40 L273.30 70.07 L273.90 71.76 L276.10 68.32 L277.90 71.69 L279.60 70.56 L281.90 64.82 L283.60 65.34 L285.30 66.05 L287.60 70.20 L289.30 68.61 L291.00 67.60 L292.70 68.20 L294.40 66.59 L295.70 64.16 L297.70 68.07 L300.30 70.29 L302.50 68.70 L304.60 69.11 L307.20 69.62 L309.70 69.93 L312.30 72.05 L314.90 70.86 L317.40 69.97 L320.00 68.68 L323.40 65.70 L325.50 68.01 L328.90 65.72 L331.70 66.94 L333.70 68.75 L335.50 67.55 L337.50 69.76 L338.90 70.97 L338.90 72.23 L337.50 71.04 L335.50 68.85 L333.70 70.05 L331.70 68.26 L328.90 67.08 L325.50 69.39 L323.40 67.10 L320.00 70.12 L317.40 71.43 L314.90 72.34 L312.30 73.55 L309.70 71.47 L307.20 71.18 L304.60 70.69 L302.50 70.30 L300.30 71.91 L297.70 69.88 L295.70 66.15 L294.40 68.69 L292.70 70.44 L291.00 69.99 L289.30 71.17 L287.60 72.98 L285.30 69.13 L283.60 68.64 L281.90 68.17 L279.60 73.88 L277.90 74.98 L276.10 71.58 L273.90 74.98 L273.30 73.28 L271.60 75.58 L269.90 70.97 L268.10 74.92 L267.00 70.89 L265.90 72.56 L264.10 79.71 L262.00 75.85 L260.80 76.29 L259.00 77.10 L257.30 77.81 L255.60 77.22 L253.90 75.95 L252.60 71.40 L251.40 68.15 L249.90 72.19 L248.50 73.74 L247.10 74.01 L245.70 74.41 L244.60 76.30 L243.40 75.49 L242.00 73.49 L240.50 70.58 L239.10 67.17 L237.70 63.77 L236.60 59.77 L235.70 55.84 L235.00 52.40Z" fill="#c6c6c6" stroke="#c6c6c6" stroke-width="0.6" stroke-linejoin="round"/>
<path d="M235.00 51.61 L235.40 53.77 L235.80 55.81 L236.20 57.72 L236.60 59.32 L237.00 60.93 L237.40 61.59 L237.80 63.31 L238.20 64.71 L238.60 65.42 L239.00 66.62 L239.40 66.88 L239.80 68.17 L240.20 68.94 L240.60 70.13 L241.00 70.93 L241.40 71.20 L241.80 72.16 L242.20 72.89 L242.60 74.03 L243.00 74.47 L243.40 74.49 L243.80 75.33 L244.20 75.01 L244.60 75.71 L245.00 74.57 L245.40 73.77 L245.80 74.01 L246.20 73.30 L246.60 73.19 L247.00 73.76 L247.40 73.57 L247.80 72.96 L248.20 73.48 L248.60 72.92 L249.00 72.59 L249.40 71.71 L249.80 71.91 L250.20 70.75 L250.60 69.91 L251.00 68.75 L251.40 67.12 L251.80 68.24 L252.20 69.13 L252.60 70.18 L253.00 71.49 L253.40 73.09 L253.80 74.75 L254.20 74.76 L254.60 75.65 L255.00 75.63 L255.40 75.89 L255.80 76.55 L256.20 76.36 L256.60 76.33 L257.00 76.59 L257.40 76.84 L257.80 76.07 L258.20 76.70 L258.60 75.66 L259.00 76.12 L259.40 76.01 L259.80 75.07 L260.20 75.56 L260.60 74.98 L261.00 74.99 L261.40 74.31 L261.80 74.18 L262.20 74.57 L262.60 76.00 L263.00 76.04 L263.40 77.26 L263.80 78.14 L264.20 78.30 L264.60 76.16 L265.00 74.57 L265.40 73.12 L265.80 71.75 L266.20 70.28 L266.60 70.24 L267.00 69.67 L267.40 71.18 L267.80 71.89 L268.20 73.58 L268.60 71.92 L269.00 71.26 L269.40 70.61 L269.80 70.00 L270.20 70.07 L270.60 71.68 L271.00 72.42 L271.40 73.29 L271.80 73.56 L272.20 72.90 L272.60 72.27 L273.00 71.79 L273.40 72.15 L273.80 73.56 L274.20 72.63 L274.60 71.91 L275.00 72.14 L275.40 71.11 L275.80 70.38 L276.20 69.95 L276.60 71.03 L277.00 71.99 L277.40 72.42 L277.80 73.14 L278.20 72.81 L278.60 73.32 L279.00 72.27 L279.40 72.42 L279.80 72.11 L280.20 70.48 L280.60 70.03 L281.00 69.24 L281.40 67.96 L281.80 67.11 L282.20 66.33 L282.60 66.75 L283.00 66.61 L283.40 67.35 L283.80 66.99 L284.20 67.27 L284.60 67.90 L285.00 67.91 L285.40 68.30 L285.80 68.53 L286.20 69.25 L286.60 70.17 L287.00 70.64 L287.40 71.16 L287.80 71.41 L288.20 70.78 L288.60 70.59 L289.00 70.74 L289.40 70.35 L289.80 69.79 L290.20 69.42 L290.60 69.01 L291.00 68.53 L291.40 68.81 L291.80 69.39 L292.20 69.58 L292.60 69.25 L293.00 69.36 L293.40 68.95 L293.80 68.48 L294.20 68.05 L294.60 67.55 L295.00 66.42 L295.40 65.96 L295.80 65.19 L296.20 66.14 L296.60 67.15 L297.00 67.84 L297.40 68.24 L297.80 69.48 L298.20 69.54 L298.60 69.80 L299.00 69.61 L299.40 70.42 L299.80 70.47 L300.20 71.17 L300.60 70.85 L301.00 70.88 L301.40 70.43 L301.80 70.28 L302.20 69.58 L302.60 69.65 L303.00 69.81 L303.40 69.97 L303.80 69.61 L304.20 70.13 L304.60 70.23 L305.00 70.15 L305.40 70.48 L305.80 70.54 L306.20 70.22 L306.60 70.31 L307.00 70.06 L307.40 70.73 L307.80 70.87 L308.20 70.50 L308.60 70.74 L309.00 70.81 L309.40 70.87 L309.80 70.49 L310.20 71.36 L310.60 71.50 L311.00 71.90 L311.40 72.00 L311.80 72.51 L312.20 72.97 L312.60 72.78 L313.00 72.68 L313.40 71.87 L313.80 71.80 L314.20 71.87 L314.60 71.87 L315.00 71.31 L315.40 71.59 L315.80 71.39 L316.20 70.72 L316.60 70.96 L317.00 70.60 L317.40 70.30 L317.80 70.17 L318.20 70.14 L318.60 69.81 L319.00 69.62 L319.40 69.28 L319.80 69.47 L320.20 69.12 L320.60 68.97 L321.00 68.60 L321.40 67.93 L321.80 68.17 L322.20 67.01 L322.60 67.02 L323.00 66.55 L323.40 66.32 L323.80 66.49 L324.20 67.57 L324.60 67.60 L325.00 67.73 L325.40 68.69 L325.80 68.13 L326.20 68.27 L326.60 67.81 L327.00 67.76 L327.40 67.83 L327.80 67.43 L328.20 66.80 L328.60 66.88 L329.00 66.57 L329.40 66.50 L329.80 66.46 L330.20 67.04 L330.60 67.19 L331.00 67.71 L331.40 67.89 L331.80 67.79 L332.20 67.92 L332.60 68.76 L333.00 68.32 L333.40 68.78 L333.80 69.39 L334.20 69.17 L334.60 68.48 L335.00 68.65 L335.40 68.62 L335.80 68.42 L336.20 68.91 L336.60 69.16 L337.00 69.66 L337.40 70.72 L337.80 70.55 L338.20 71.42 L338.60 71.72 L338.90 71.60" fill="none" stroke="#111" stroke-width="1.05" stroke-linejoin="round"/>
<line x1="202.50" y1="13.10" x2="202.50" y2="93.90" stroke="#4d4d4d" stroke-width="1" />
<line x1="202.00" y1="93.40" x2="350.00" y2="93.40" stroke="#4d4d4d" stroke-width="1" />
<line x1="200.10" y1="80.38" x2="202.50" y2="80.38" stroke="#333" stroke-width="0.9" />
<text transform="translate(198.50 83.08) scale(1.0 1.15)" font-size="6.0" text-anchor="end" fill="#404040" stroke="#404040" stroke-width="0.1" >0.5</text>
<line x1="200.10" y1="71.30" x2="202.50" y2="71.30" stroke="#333" stroke-width="0.9" />
<text transform="translate(198.50 74.00) scale(1.0 1.15)" font-size="6.0" text-anchor="end" fill="#404040" stroke="#404040" stroke-width="0.1" >1.0</text>
<line x1="200.10" y1="62.22" x2="202.50" y2="62.22" stroke="#333" stroke-width="0.9" />
<text transform="translate(198.50 64.92) scale(1.0 1.15)" font-size="6.0" text-anchor="end" fill="#404040" stroke="#404040" stroke-width="0.1" >1.5</text>
<line x1="200.10" y1="53.15" x2="202.50" y2="53.15" stroke="#333" stroke-width="0.9" />
<text transform="translate(198.50 55.85) scale(1.0 1.15)" font-size="6.0" text-anchor="end" fill="#404040" stroke="#404040" stroke-width="0.1" >2.0</text>
<line x1="200.10" y1="44.08" x2="202.50" y2="44.08" stroke="#333" stroke-width="0.9" />
<text transform="translate(198.50 46.78) scale(1.0 1.15)" font-size="6.0" text-anchor="end" fill="#404040" stroke="#404040" stroke-width="0.1" >2.5</text>
<line x1="200.10" y1="35.00" x2="202.50" y2="35.00" stroke="#333" stroke-width="0.9" />
<text transform="translate(198.50 37.70) scale(1.0 1.15)" font-size="6.0" text-anchor="end" fill="#404040" stroke="#404040" stroke-width="0.1" >3.0</text>
<line x1="200.10" y1="25.92" x2="202.50" y2="25.92" stroke="#333" stroke-width="0.9" />
<text transform="translate(198.50 28.62) scale(1.0 1.15)" font-size="6.0" text-anchor="end" fill="#404040" stroke="#404040" stroke-width="0.1" >3.5</text>
<line x1="208.60" y1="93.40" x2="208.60" y2="95.70" stroke="#333" stroke-width="0.9" />
<text transform="translate(208.60 101.80) scale(1.0 1.12)" font-size="6.25" text-anchor="middle" fill="#404040" stroke="#404040" stroke-width="0.1" >Jan</text>
<line x1="221.00" y1="93.40" x2="221.00" y2="95.70" stroke="#333" stroke-width="0.9" />
<text transform="translate(221.00 101.80) scale(1.0 1.12)" font-size="6.25" text-anchor="middle" fill="#404040" stroke="#404040" stroke-width="0.1" >Feb</text>
<line x1="232.60" y1="93.40" x2="232.60" y2="95.70" stroke="#333" stroke-width="0.9" />
<text transform="translate(232.60 101.80) scale(1.0 1.12)" font-size="6.25" text-anchor="middle" fill="#404040" stroke="#404040" stroke-width="0.1" >Mar</text>
<line x1="245.00" y1="93.40" x2="245.00" y2="95.70" stroke="#333" stroke-width="0.9" />
<text transform="translate(245.00 101.80) scale(1.0 1.12)" font-size="6.25" text-anchor="middle" fill="#404040" stroke="#404040" stroke-width="0.1" >Apr</text>
<line x1="257.00" y1="93.40" x2="257.00" y2="95.70" stroke="#333" stroke-width="0.9" />
<text transform="translate(257.00 101.80) scale(1.0 1.12)" font-size="6.25" text-anchor="middle" fill="#404040" stroke="#404040" stroke-width="0.1" >May</text>
<line x1="269.40" y1="93.40" x2="269.40" y2="95.70" stroke="#333" stroke-width="0.9" />
<text transform="translate(269.40 101.80) scale(1.0 1.12)" font-size="6.25" text-anchor="middle" fill="#404040" stroke="#404040" stroke-width="0.1" >Jun</text>
<line x1="281.40" y1="93.40" x2="281.40" y2="95.70" stroke="#333" stroke-width="0.9" />
<text transform="translate(281.40 101.80) scale(1.0 1.12)" font-size="6.25" text-anchor="middle" fill="#404040" stroke="#404040" stroke-width="0.1" >Jul</text>
<line x1="293.80" y1="93.40" x2="293.80" y2="95.70" stroke="#333" stroke-width="0.9" />
<text transform="translate(293.80 101.80) scale(1.0 1.12)" font-size="6.25" text-anchor="middle" fill="#404040" stroke="#404040" stroke-width="0.1" >Aug</text>
<line x1="306.20" y1="93.40" x2="306.20" y2="95.70" stroke="#333" stroke-width="0.9" />
<text transform="translate(306.20 101.80) scale(1.0 1.12)" font-size="6.25" text-anchor="middle" fill="#404040" stroke="#404040" stroke-width="0.1" >Sep</text>
<line x1="318.20" y1="93.40" x2="318.20" y2="95.70" stroke="#333" stroke-width="0.9" />
<text transform="translate(318.20 101.80) scale(1.0 1.12)" font-size="6.25" text-anchor="middle" fill="#404040" stroke="#404040" stroke-width="0.1" >Oct</text>
<line x1="330.60" y1="93.40" x2="330.60" y2="95.70" stroke="#333" stroke-width="0.9" />
<text transform="translate(330.60 101.80) scale(1.0 1.12)" font-size="6.25" text-anchor="middle" fill="#404040" stroke="#404040" stroke-width="0.1" >Nov</text>
<line x1="342.60" y1="93.40" x2="342.60" y2="95.70" stroke="#333" stroke-width="0.9" />
<text transform="translate(342.60 101.80) scale(1.0 1.12)" font-size="6.25" text-anchor="middle" fill="#404040" stroke="#404040" stroke-width="0.1" >Dec</text>
<text transform="translate(276.25 110.20) scale(1.0 1.12)" font-size="7.3" text-anchor="middle" fill="#111" stroke="#111" stroke-width="0.06" >Assumed date of infection</text>
<text transform="translate(185.0 53.55) rotate(-90) scale(1 1.05)" font-size="7.7" text-anchor="middle" fill="#111" stroke="#111" stroke-width="0.1">R<tspan font-size="5.2" dy="1.2">t</tspan></text>
<text transform="translate(202.20 126.10)" font-size="8.2" text-anchor="start" fill="#111" stroke="#111" stroke-width="0.12" >Fraser, BC</text>
<line x1="201.70" y1="190.40" x2="350.00" y2="190.40" stroke="#111" stroke-width="1.15" stroke-dasharray="1.2 2.8"/>
<path d="M235.10 168.47 L235.70 165.27 L236.40 168.23 L237.20 165.67 L238.00 165.20 L238.40 171.33 L239.20 176.80 L240.30 182.25 L241.30 186.03 L242.30 188.21 L243.40 191.01 L244.40 188.89 L245.40 185.62 L246.20 186.46 L247.30 188.24 L248.50 188.00 L249.50 187.30 L250.60 183.66 L251.60 181.26 L252.60 182.86 L253.60 187.56 L255.20 191.27 L256.70 191.55 L258.30 190.81 L259.60 188.31 L261.30 188.65 L263.60 190.61 L264.70 186.94 L266.40 182.40 L267.60 185.20 L269.30 185.80 L271.00 185.20 L272.70 187.50 L274.40 184.60 L275.60 182.90 L276.90 186.40 L278.40 188.60 L279.90 185.20 L281.50 180.40 L283.00 182.40 L284.50 186.40 L285.90 184.66 L287.60 184.29 L289.90 179.25 L291.60 181.07 L293.30 185.34 L294.40 183.55 L295.70 180.39 L297.10 184.06 L298.80 185.97 L300.50 187.34 L302.30 186.76 L304.00 186.88 L305.30 186.07 L306.70 188.47 L308.10 187.67 L309.70 185.58 L311.50 189.12 L313.30 190.15 L315.00 187.37 L316.60 186.49 L318.40 185.42 L320.40 185.74 L322.10 184.07 L323.50 182.09 L324.80 184.10 L326.60 186.23 L328.40 185.25 L329.80 184.17 L331.40 184.90 L333.10 186.32 L334.80 188.34 L336.60 184.97 L338.00 187.09 L339.40 189.10 L339.40 191.90 L338.00 189.91 L336.60 187.83 L334.80 191.26 L333.10 189.28 L331.40 187.90 L329.80 187.23 L328.40 188.35 L326.60 189.37 L324.80 187.30 L323.50 185.31 L322.10 187.33 L320.40 189.06 L318.40 188.78 L316.60 189.91 L315.00 190.83 L313.30 193.65 L311.50 192.68 L309.70 189.21 L308.10 191.48 L306.70 192.43 L305.30 190.19 L304.00 191.14 L302.30 191.21 L300.50 191.98 L298.80 191.09 L297.10 189.77 L295.70 186.60 L294.40 190.21 L293.30 192.39 L291.60 188.63 L289.90 187.05 L287.60 192.41 L285.90 193.04 L284.50 194.90 L283.00 190.90 L281.50 188.90 L279.90 193.70 L278.40 197.10 L276.90 194.90 L275.60 191.40 L274.40 193.10 L272.70 196.00 L271.00 193.70 L269.30 194.30 L267.60 193.70 L266.40 190.90 L264.70 195.37 L263.60 198.76 L261.30 196.23 L259.60 195.46 L258.30 197.63 L256.70 197.97 L255.20 197.32 L253.60 193.70 L252.60 189.10 L251.60 187.60 L250.60 190.10 L249.50 193.65 L248.50 194.05 L247.30 193.93 L246.20 191.82 L245.40 190.74 L244.40 194.05 L243.40 196.45 L242.30 193.95 L241.30 192.04 L240.30 188.53 L239.20 184.40 L238.40 181.87 L238.00 177.20 L237.20 178.73 L236.40 182.37 L235.70 180.33 L235.10 184.33Z" fill="#dcdcdc" stroke="#dcdcdc" stroke-width="0.6" stroke-linejoin="round" opacity="0.9"/>
<path d="M235.10 173.38 L235.70 169.96 L236.40 172.67 L237.20 169.81 L238.00 169.05 L238.40 174.67 L239.20 179.11 L240.30 184.09 L241.30 187.77 L242.30 189.85 L243.40 192.54 L244.40 190.33 L245.40 187.04 L246.20 187.97 L247.30 189.87 L248.50 189.76 L249.50 189.17 L250.60 185.55 L251.60 183.10 L252.60 184.64 L253.60 189.29 L255.20 192.94 L256.70 193.34 L258.30 192.73 L259.60 190.34 L261.30 190.82 L263.60 192.97 L264.70 189.40 L266.40 184.88 L267.60 187.67 L269.30 188.28 L271.00 187.67 L272.70 189.97 L274.40 187.07 L275.60 185.38 L276.90 188.88 L278.40 191.07 L279.90 187.67 L281.50 182.88 L283.00 184.88 L284.50 188.88 L285.90 187.10 L287.60 186.66 L289.90 181.53 L291.60 183.29 L293.30 187.41 L294.40 185.50 L295.70 182.21 L297.10 185.73 L298.80 187.47 L300.50 188.69 L302.30 188.05 L304.00 188.10 L305.30 187.24 L306.70 189.59 L308.10 188.73 L309.70 186.58 L311.50 190.10 L313.30 191.11 L315.00 188.32 L316.60 187.43 L318.40 186.34 L320.40 186.65 L322.10 184.97 L323.50 182.97 L324.80 184.98 L326.60 187.09 L328.40 186.10 L329.80 185.01 L331.40 185.72 L333.10 187.13 L334.80 189.14 L336.60 185.76 L338.00 187.86 L339.40 189.87 L339.40 191.13 L338.00 189.14 L336.60 187.04 L334.80 190.46 L333.10 188.47 L331.40 187.08 L329.80 186.39 L328.40 187.50 L326.60 188.51 L324.80 186.42 L323.50 184.43 L322.10 186.43 L320.40 188.15 L318.40 187.86 L316.60 188.97 L315.00 189.88 L313.30 192.69 L311.50 191.70 L309.70 188.22 L308.10 190.44 L306.70 191.37 L305.30 189.09 L304.00 190.02 L302.30 190.05 L300.50 190.78 L298.80 189.78 L297.10 188.30 L295.70 185.00 L294.40 188.50 L293.30 190.58 L291.60 186.69 L289.90 185.04 L287.60 190.32 L285.90 190.87 L284.50 192.70 L283.00 188.70 L281.50 186.70 L279.90 191.50 L278.40 194.90 L276.90 192.70 L275.60 189.20 L274.40 190.90 L272.70 193.80 L271.00 191.50 L269.30 192.10 L267.60 191.50 L266.40 188.70 L264.70 193.19 L263.60 196.64 L261.30 194.23 L259.60 193.56 L258.30 195.80 L256.70 196.23 L255.20 195.66 L253.60 192.05 L252.60 187.45 L251.60 185.95 L250.60 188.45 L249.50 192.03 L248.50 192.48 L247.30 192.43 L246.20 190.38 L245.40 189.34 L244.40 192.65 L243.40 194.99 L242.30 192.44 L241.30 190.48 L240.30 186.92 L239.20 182.53 L238.40 179.41 L238.00 174.45 L237.20 175.69 L236.40 179.03 L235.70 176.74 L235.10 180.52Z" fill="#c6c6c6" stroke="#c6c6c6" stroke-width="0.6" stroke-linejoin="round"/>
<path d="M235.10 177.25 L235.50 175.43 L235.90 174.93 L236.30 176.32 L236.70 175.40 L237.10 173.93 L237.50 172.38 L237.90 172.44 L238.30 175.87 L238.70 178.96 L239.10 180.49 L239.50 182.31 L239.90 183.97 L240.30 185.67 L240.70 187.33 L241.10 188.91 L241.50 189.46 L241.90 190.68 L242.30 191.55 L242.70 192.05 L243.10 192.75 L243.50 193.57 L243.90 192.89 L244.30 191.75 L244.70 190.23 L245.10 189.37 L245.50 188.17 L245.90 189.17 L246.30 189.08 L246.70 190.19 L247.10 190.73 L247.50 191.64 L247.90 190.87 L248.30 191.54 L248.70 191.03 L249.10 190.78 L249.50 190.44 L249.90 189.39 L250.30 188.47 L250.70 187.30 L251.10 186.25 L251.50 184.95 L251.90 184.81 L252.30 185.66 L252.70 186.69 L253.10 188.22 L253.50 190.68 L253.90 191.00 L254.30 192.04 L254.70 192.91 L255.10 193.78 L255.50 194.01 L255.90 194.30 L256.30 194.55 L256.70 195.20 L257.10 194.72 L257.50 194.66 L257.90 194.29 L258.30 194.00 L258.70 193.65 L259.10 193.09 L259.50 191.80 L259.90 192.24 L260.30 191.99 L260.70 192.56 L261.10 192.40 L261.50 192.48 L261.90 192.88 L262.30 193.86 L262.70 194.04 L263.10 194.03 L263.50 195.16 L263.90 193.74 L264.30 192.47 L264.70 190.95 L265.10 190.16 L265.50 189.34 L265.90 188.58 L266.30 186.98 L266.70 187.60 L267.10 188.16 L267.50 189.63 L267.90 189.63 L268.30 189.84 L268.70 189.88 L269.10 190.52 L269.50 190.66 L269.90 189.76 L270.30 189.90 L270.70 189.45 L271.10 190.06 L271.50 190.74 L271.90 190.58 L272.30 191.62 L272.70 191.82 L273.10 191.27 L273.50 190.70 L273.90 189.85 L274.30 189.41 L274.70 188.52 L275.10 188.10 L275.50 187.41 L275.90 188.14 L276.30 188.96 L276.70 190.23 L277.10 190.84 L277.50 191.89 L277.90 192.29 L278.30 192.88 L278.70 192.78 L279.10 191.20 L279.50 190.63 L279.90 189.80 L280.30 188.62 L280.70 187.53 L281.10 185.97 L281.50 185.28 L281.90 185.58 L282.30 185.58 L282.70 186.59 L283.10 187.18 L283.50 188.63 L283.90 189.50 L284.30 190.52 L284.70 190.80 L285.10 190.32 L285.50 189.57 L285.90 189.09 L286.30 189.01 L286.70 188.43 L287.10 188.76 L287.50 188.56 L287.90 187.86 L288.30 187.07 L288.70 186.25 L289.10 185.11 L289.50 184.37 L289.90 183.16 L290.30 184.23 L290.70 184.35 L291.10 184.78 L291.50 185.21 L291.90 185.38 L292.30 186.46 L292.70 187.58 L293.10 188.57 L293.50 188.64 L293.90 188.03 L294.30 187.40 L294.70 186.54 L295.10 185.44 L295.50 184.14 L295.90 184.50 L296.30 185.44 L296.70 186.54 L297.10 186.66 L297.50 187.55 L297.90 187.56 L298.30 188.55 L298.70 189.01 L299.10 189.05 L299.50 188.99 L299.90 189.75 L300.30 189.68 L300.70 189.90 L301.10 189.29 L301.50 189.06 L301.90 189.56 L302.30 189.42 L302.70 188.99 L303.10 188.73 L303.50 188.92 L303.90 189.47 L304.30 188.64 L304.70 188.84 L305.10 188.17 L305.50 188.93 L305.90 189.04 L306.30 190.25 L306.70 190.51 L307.10 189.80 L307.50 189.89 L307.90 189.66 L308.30 189.01 L308.70 188.40 L309.10 188.28 L309.50 187.88 L309.90 188.00 L310.30 188.41 L310.70 189.06 L311.10 190.08 L311.50 191.10 L311.90 190.86 L312.30 191.69 L312.70 192.00 L313.10 191.64 L313.50 191.25 L313.90 190.96 L314.30 189.94 L314.70 189.95 L315.10 189.12 L315.50 188.74 L315.90 188.91 L316.30 188.62 L316.70 188.36 L317.10 187.53 L317.50 187.54 L317.90 187.26 L318.30 187.49 L318.70 186.93 L319.10 186.85 L319.50 187.22 L319.90 187.15 L320.30 187.53 L320.70 186.98 L321.10 186.36 L321.50 186.45 L321.90 186.29 L322.30 185.59 L322.70 184.90 L323.10 183.89 L323.50 183.43 L323.90 184.46 L324.30 185.33 L324.70 185.52 L325.10 186.47 L325.50 186.16 L325.90 186.79 L326.30 187.26 L326.70 187.91 L327.10 187.40 L327.50 187.44 L327.90 186.68 L328.30 187.01 L328.70 186.76 L329.10 185.97 L329.50 185.63 L329.90 185.66 L330.30 185.89 L330.70 186.07 L331.10 186.67 L331.50 186.16 L331.90 186.93 L332.30 187.15 L332.70 187.58 L333.10 187.61 L333.50 188.50 L333.90 189.03 L334.30 188.78 L334.70 189.54 L335.10 188.79 L335.50 188.56 L335.90 187.95 L336.30 186.88 L336.70 186.97 L337.10 187.40 L337.50 187.90 L337.90 188.00 L338.30 188.75 L338.70 189.78 L339.10 190.05 L339.40 190.50" fill="none" stroke="#111" stroke-width="1.05" stroke-linejoin="round"/>
<line x1="202.50" y1="132.20" x2="202.50" y2="213.00" stroke="#4d4d4d" stroke-width="1" />
<line x1="202.00" y1="212.50" x2="350.00" y2="212.50" stroke="#4d4d4d" stroke-width="1" />
<line x1="200.10" y1="199.47" x2="202.50" y2="199.47" stroke="#333" stroke-width="0.9" />
<text transform="translate(198.50 202.17) scale(1.0 1.15)" font-size="6.0" text-anchor="end" fill="#404040" stroke="#404040" stroke-width="0.1" >0.5</text>
<line x1="200.10" y1="190.40" x2="202.50" y2="190.40" stroke="#333" stroke-width="0.9" />
<text transform="translate(198.50 193.10) scale(1.0 1.15)" font-size="6.0" text-anchor="end" fill="#404040" stroke="#404040" stroke-width="0.1" >1.0</text>
<line x1="200.10" y1="181.32" x2="202.50" y2="181.32" stroke="#333" stroke-width="0.9" />
<text transform="translate(198.50 184.02) scale(1.0 1.15)" font-size="6.0" text-anchor="end" fill="#404040" stroke="#404040" stroke-width="0.1" >1.5</text>
<line x1="200.10" y1="172.25" x2="202.50" y2="172.25" stroke="#333" stroke-width="0.9" />
<text transform="translate(198.50 174.95) scale(1.0 1.15)" font-size="6.0" text-anchor="end" fill="#404040" stroke="#404040" stroke-width="0.1" >2.0</text>
<line x1="200.10" y1="163.17" x2="202.50" y2="163.17" stroke="#333" stroke-width="0.9" />
<text transform="translate(198.50 165.87) scale(1.0 1.15)" font-size="6.0" text-anchor="end" fill="#404040" stroke="#404040" stroke-width="0.1" >2.5</text>
<line x1="200.10" y1="154.10" x2="202.50" y2="154.10" stroke="#333" stroke-width="0.9" />
<text transform="translate(198.50 156.80) scale(1.0 1.15)" font-size="6.0" text-anchor="end" fill="#404040" stroke="#404040" stroke-width="0.1" >3.0</text>
<line x1="200.10" y1="145.02" x2="202.50" y2="145.02" stroke="#333" stroke-width="0.9" />
<text transform="translate(198.50 147.72) scale(1.0 1.15)" font-size="6.0" text-anchor="end" fill="#404040" stroke="#404040" stroke-width="0.1" >3.5</text>
<line x1="208.60" y1="212.50" x2="208.60" y2="214.80" stroke="#333" stroke-width="0.9" />
<text transform="translate(208.60 220.90) scale(1.0 1.12)" font-size="6.25" text-anchor="middle" fill="#404040" stroke="#404040" stroke-width="0.1" >Jan</text>
<line x1="221.00" y1="212.50" x2="221.00" y2="214.80" stroke="#333" stroke-width="0.9" />
<text transform="translate(221.00 220.90) scale(1.0 1.12)" font-size="6.25" text-anchor="middle" fill="#404040" stroke="#404040" stroke-width="0.1" >Feb</text>
<line x1="232.60" y1="212.50" x2="232.60" y2="214.80" stroke="#333" stroke-width="0.9" />
<text transform="translate(232.60 220.90) scale(1.0 1.12)" font-size="6.25" text-anchor="middle" fill="#404040" stroke="#404040" stroke-width="0.1" >Mar</text>
<line x1="245.00" y1="212.50" x2="245.00" y2="214.80" stroke="#333" stroke-width="0.9" />
<text transform="translate(245.00 220.90) scale(1.0 1.12)" font-size="6.25" text-anchor="middle" fill="#404040" stroke="#404040" stroke-width="0.1" >Apr</text>
<line x1="257.00" y1="212.50" x2="257.00" y2="214.80" stroke="#333" stroke-width="0.9" />
<text transform="translate(257.00 220.90) scale(1.0 1.12)" font-size="6.25" text-anchor="middle" fill="#404040" stroke="#404040" stroke-width="0.1" >May</text>
<line x1="269.40" y1="212.50" x2="269.40" y2="214.80" stroke="#333" stroke-width="0.9" />
<text transform="translate(269.40 220.90) scale(1.0 1.12)" font-size="6.25" text-anchor="middle" fill="#404040" stroke="#404040" stroke-width="0.1" >Jun</text>
<line x1="281.40" y1="212.50" x2="281.40" y2="214.80" stroke="#333" stroke-width="0.9" />
<text transform="translate(281.40 220.90) scale(1.0 1.12)" font-size="6.25" text-anchor="middle" fill="#404040" stroke="#404040" stroke-width="0.1" >Jul</text>
<line x1="293.80" y1="212.50" x2="293.80" y2="214.80" stroke="#333" stroke-width="0.9" />
<text transform="translate(293.80 220.90) scale(1.0 1.12)" font-size="6.25" text-anchor="middle" fill="#404040" stroke="#404040" stroke-width="0.1" >Aug</text>
<line x1="306.20" y1="212.50" x2="306.20" y2="214.80" stroke="#333" stroke-width="0.9" />
<text transform="translate(306.20 220.90) scale(1.0 1.12)" font-size="6.25" text-anchor="middle" fill="#404040" stroke="#404040" stroke-width="0.1" >Sep</text>
<line x1="318.20" y1="212.50" x2="318.20" y2="214.80" stroke="#333" stroke-width="0.9" />
<text transform="translate(318.20 220.90) scale(1.0 1.12)" font-size="6.25" text-anchor="middle" fill="#404040" stroke="#404040" stroke-width="0.1" >Oct</text>
<line x1="330.60" y1="212.50" x2="330.60" y2="214.80" stroke="#333" stroke-width="0.9" />
<text transform="translate(330.60 220.90) scale(1.0 1.12)" font-size="6.25" text-anchor="middle" fill="#404040" stroke="#404040" stroke-width="0.1" >Nov</text>
<line x1="342.60" y1="212.50" x2="342.60" y2="214.80" stroke="#333" stroke-width="0.9" />
<text transform="translate(342.60 220.90) scale(1.0 1.12)" font-size="6.25" text-anchor="middle" fill="#404040" stroke="#404040" stroke-width="0.1" >Dec</text>
<text transform="translate(276.25 229.30) scale(1.0 1.12)" font-size="7.3" text-anchor="middle" fill="#111" stroke="#111" stroke-width="0.06" >Assumed date of infection</text>
<text transform="translate(185.0 172.65) rotate(-90) scale(1 1.05)" font-size="7.7" text-anchor="middle" fill="#111" stroke="#111" stroke-width="0.1">R<tspan font-size="5.2" dy="1.2">t</tspan></text>
<text transform="translate(202.20 245.20)" font-size="8.2" text-anchor="start" fill="#111" stroke="#111" stroke-width="0.12" >Vancouver Coastal, BC</text>
<line x1="201.70" y1="309.50" x2="350.00" y2="309.50" stroke="#111" stroke-width="1.15" stroke-dasharray="1.2 2.8"/>
<path d="M235.30 279.20 L235.70 282.13 L236.40 287.27 L237.40 295.20 L238.50 301.17 L240.00 304.67 L242.10 308.83 L244.20 312.10 L246.40 313.20 L247.80 310.03 L248.90 305.67 L249.90 302.33 L250.90 303.80 L252.00 306.00 L253.00 307.50 L254.20 308.95 L255.30 308.68 L256.30 307.97 L257.30 306.22 L258.40 304.20 L259.40 302.20 L260.60 300.70 L261.80 300.10 L263.10 299.45 L264.50 299.33 L265.70 300.13 L266.90 300.93 L267.90 294.40 L268.80 282.80 L269.60 266.27 L270.30 268.13 L271.30 274.00 L272.50 290.00 L273.70 294.00 L275.10 294.45 L276.50 293.88 L277.70 293.57 L278.90 293.27 L280.20 293.05 L281.60 293.40 L282.80 293.70 L284.50 294.75 L286.20 296.60 L287.90 293.20 L289.10 291.35 L290.10 290.07 L291.30 290.87 L292.50 291.67 L293.90 293.80 L295.40 297.20 L296.70 301.10 L298.40 303.63 L300.20 305.50 L302.00 305.50 L303.60 305.50 L305.20 305.60 L307.00 306.50 L308.40 307.20 L310.20 308.00 L312.10 308.00 L314.30 308.00 L316.20 308.00 L318.00 308.00 L320.10 308.00 L322.10 308.06 L324.20 308.11 L326.20 305.40 L328.00 302.10 L329.70 304.40 L331.30 306.50 L333.10 306.20 L334.90 308.39 L336.80 308.44 L338.60 308.49 L338.60 311.51 L336.80 311.56 L334.90 311.61 L333.10 311.66 L331.30 311.70 L329.70 311.74 L328.00 311.79 L326.20 311.84 L324.20 311.89 L322.10 311.94 L320.10 312.00 L318.00 312.00 L316.20 312.00 L314.30 312.00 L312.10 312.00 L310.20 312.00 L308.40 311.36 L307.00 310.80 L305.20 310.08 L303.60 310.28 L302.00 310.60 L300.20 310.96 L298.40 309.93 L296.70 308.77 L295.40 307.80 L293.90 307.23 L292.50 307.33 L291.30 308.13 L290.10 308.93 L289.10 310.80 L287.90 313.10 L286.20 314.80 L284.50 315.00 L282.80 314.70 L281.60 314.40 L280.20 314.05 L278.90 314.00 L277.70 314.00 L276.50 314.00 L275.10 314.90 L273.70 316.00 L272.50 316.00 L271.30 320.80 L270.30 323.87 L269.60 325.73 L268.80 323.90 L267.90 321.80 L266.90 320.00 L265.70 320.00 L264.50 320.00 L263.10 320.67 L261.80 321.65 L260.60 322.55 L259.40 322.70 L258.40 322.20 L257.30 319.90 L256.30 316.90 L255.30 315.65 L254.20 315.10 L253.00 313.50 L252.00 312.00 L250.90 310.08 L249.90 308.87 L248.90 312.53 L247.80 315.40 L246.40 316.60 L244.20 315.13 L242.10 311.83 L240.00 308.40 L238.50 304.40 L237.40 300.20 L236.40 295.53 L235.70 292.27 L235.30 290.40Z" fill="#dcdcdc" stroke="#dcdcdc" stroke-width="0.6" stroke-linejoin="round" opacity="0.9"/>
<path d="M235.30 283.05 L235.70 286.57 L236.40 291.63 L237.40 297.95 L238.50 302.94 L240.00 306.72 L242.10 310.19 L244.20 312.98 L246.40 314.63 L247.80 312.60 L248.90 308.76 L249.90 304.29 L250.90 304.57 L252.00 307.87 L253.00 310.69 L254.20 310.79 L255.30 311.82 L256.30 310.90 L257.30 311.88 L258.40 312.95 L259.40 312.26 L260.60 308.29 L261.80 306.10 L263.10 306.30 L264.50 305.97 L265.70 305.39 L266.90 307.90 L267.90 306.39 L268.80 294.57 L269.60 280.53 L270.30 278.57 L271.30 284.95 L272.50 297.81 L273.70 303.35 L275.10 304.49 L276.50 300.98 L277.70 299.42 L278.90 300.22 L280.20 299.18 L281.60 299.78 L282.80 300.91 L284.50 303.25 L286.20 305.01 L287.90 302.55 L289.10 298.42 L290.10 294.54 L291.30 295.40 L292.50 296.69 L293.90 297.15 L295.40 300.00 L296.70 303.46 L298.40 305.81 L300.20 307.53 L302.00 306.66 L303.60 306.16 L305.20 306.81 L307.00 306.83 L308.40 308.30 L310.20 309.43 L312.10 309.81 L314.30 308.66 L316.20 309.81 L318.00 308.66 L320.10 309.43 L322.10 308.68 L324.20 308.32 L326.20 305.40 L328.00 302.10 L329.70 304.40 L331.30 306.50 L333.10 306.20 L334.90 308.67 L336.80 309.02 L338.60 309.49 L338.60 310.84 L336.80 310.43 L334.90 310.12 L333.10 308.65 L331.30 308.84 L329.70 307.71 L328.00 306.46 L326.20 308.30 L324.20 310.03 L322.10 310.44 L320.10 311.23 L318.00 310.46 L316.20 311.62 L314.30 310.46 L312.10 311.62 L310.20 311.23 L308.40 310.17 L307.00 308.76 L305.20 308.83 L303.60 308.31 L302.00 308.95 L300.20 309.99 L298.40 308.65 L296.70 306.92 L295.40 304.77 L293.90 303.20 L292.50 303.74 L291.30 303.17 L290.10 303.03 L289.10 307.17 L287.90 311.50 L286.20 313.20 L284.50 312.36 L282.80 310.36 L281.60 309.23 L280.20 308.63 L278.90 309.54 L277.70 308.61 L276.50 310.04 L275.10 313.69 L273.70 313.25 L272.50 309.51 L271.30 306.00 L270.30 303.64 L269.60 307.29 L268.80 313.06 L267.90 318.72 L266.90 316.48 L265.70 314.33 L264.50 315.27 L263.10 315.85 L261.80 315.79 L260.60 318.12 L259.40 321.49 L258.40 321.05 L257.30 318.03 L256.30 314.92 L255.30 314.96 L254.20 313.56 L253.00 313.39 L252.00 310.57 L250.90 307.39 L249.90 307.24 L248.90 311.86 L247.80 315.01 L246.40 316.16 L244.20 314.34 L242.10 311.54 L240.00 308.40 L238.50 304.40 L237.40 300.20 L236.40 295.35 L235.70 291.13 L235.30 288.09Z" fill="#c6c6c6" stroke="#c6c6c6" stroke-width="0.6" stroke-linejoin="round"/>
<path d="M235.30 285.82 L235.70 290.44 L236.10 293.48 L236.50 295.62 L236.90 298.10 L237.30 299.64 L237.70 301.45 L238.10 303.25 L238.50 304.13 L238.90 305.05 L239.30 306.24 L239.70 307.18 L240.10 308.48 L240.50 308.75 L240.90 309.28 L241.30 310.02 L241.70 310.66 L242.10 311.64 L242.50 311.32 L242.90 312.35 L243.30 313.04 L243.70 313.34 L244.10 313.28 L244.50 313.67 L244.90 314.25 L245.30 314.31 L245.70 315.55 L246.10 315.75 L246.50 316.00 L246.90 315.54 L247.30 315.53 L247.70 314.68 L248.10 313.36 L248.50 312.41 L248.90 311.24 L249.30 309.42 L249.70 306.53 L250.10 306.08 L250.50 305.34 L250.90 304.77 L251.30 306.82 L251.70 308.59 L252.10 309.89 L252.50 311.56 L252.90 312.86 L253.30 312.96 L253.70 312.29 L254.10 312.72 L254.50 312.94 L254.90 313.31 L255.30 314.12 L255.70 313.99 L256.10 313.69 L256.50 314.35 L256.90 315.15 L257.30 316.54 L257.70 317.99 L258.10 318.72 L258.50 320.55 L258.90 320.19 L259.30 320.90 L259.70 319.34 L260.10 317.30 L260.50 314.68 L260.90 313.58 L261.30 312.45 L261.70 311.12 L262.10 311.19 L262.50 311.31 L262.90 311.84 L263.30 312.02 L263.70 311.85 L264.10 311.82 L264.50 311.66 L264.90 310.71 L265.30 310.40 L265.70 309.94 L266.10 310.62 L266.50 312.46 L266.90 313.56 L267.30 314.32 L267.70 315.49 L268.10 313.78 L268.50 308.35 L268.90 302.73 L269.30 297.06 L269.70 291.56 L270.10 288.12 L270.50 288.59 L270.90 291.19 L271.30 294.16 L271.70 297.44 L272.10 301.00 L272.50 303.80 L272.90 306.64 L273.30 308.49 L273.70 310.69 L274.10 311.72 L274.50 312.25 L274.90 312.87 L275.30 311.72 L275.70 310.58 L276.10 308.63 L276.50 306.97 L276.90 306.22 L277.30 305.37 L277.70 303.81 L278.10 304.88 L278.50 305.42 L278.90 306.04 L279.30 305.25 L279.70 305.27 L280.10 304.06 L280.50 304.67 L280.90 304.33 L281.30 304.47 L281.70 304.79 L282.10 306.11 L282.50 305.93 L282.90 306.81 L283.30 308.02 L283.70 308.43 L284.10 309.79 L284.50 310.50 L284.90 310.56 L285.30 311.17 L285.70 311.70 L286.10 311.97 L286.50 311.99 L286.90 311.03 L287.30 310.86 L287.70 310.16 L288.10 308.78 L288.50 307.41 L288.90 305.04 L289.30 302.56 L289.70 300.65 L290.10 298.39 L290.50 298.11 L290.90 298.63 L291.30 299.45 L291.70 299.74 L292.10 299.84 L292.50 301.03 L292.90 300.31 L293.30 300.19 L293.70 300.46 L294.10 300.65 L294.50 300.46 L294.90 301.11 L295.30 302.31 L295.70 302.93 L296.10 303.70 L296.50 304.77 L296.90 306.05 L297.30 305.92 L297.70 306.80 L298.10 307.23 L298.50 307.54 L298.90 308.01 L299.30 308.52 L299.70 308.40 L300.10 309.22 L300.50 308.52 L300.90 308.13 L301.30 307.91 L301.70 307.73 L302.10 307.46 L302.50 307.35 L302.90 306.77 L303.30 307.15 L303.70 306.79 L304.10 307.39 L304.50 307.36 L304.90 307.35 L305.30 308.17 L305.70 307.68 L306.10 307.31 L306.50 307.38 L306.90 307.17 L307.30 307.74 L307.70 307.83 L308.10 309.12 L308.50 309.33 L308.90 309.57 L309.30 309.50 L309.70 309.95 L310.10 310.77 L310.50 310.66 L310.90 310.93 L311.30 311.11 L311.70 311.04 L312.10 310.86 L312.50 310.48 L312.90 310.87 L313.30 310.23 L313.70 310.08 L314.10 309.60 L314.50 309.55 L314.90 309.72 L315.30 310.51 L315.70 310.78 L316.10 311.24 L316.50 310.88 L316.90 310.66 L317.30 310.37 L317.70 309.92 L318.10 309.66 L318.50 309.14 L318.90 309.84 L319.30 309.95 L319.70 310.07 L320.10 310.65 L320.50 309.90 L320.90 309.64 L321.30 309.95 L321.70 309.77 L322.10 309.26 L322.50 309.31 L322.90 309.31 L323.30 308.48 L323.70 308.45 L324.10 308.55 L324.50 307.84 L324.90 307.64 L325.30 306.80 L325.70 305.97 L326.10 305.95 L326.50 304.67 L326.90 304.21 L327.30 303.58 L327.70 302.97 L328.10 301.89 L328.50 302.62 L328.90 303.74 L329.30 303.87 L329.70 304.23 L330.10 304.93 L330.50 305.51 L330.90 306.03 L331.30 306.24 L331.70 306.43 L332.10 305.96 L332.50 306.47 L332.90 306.48 L333.30 306.18 L333.70 306.85 L334.10 307.95 L334.50 308.50 L334.90 308.59 L335.30 309.15 L335.70 309.06 L336.10 308.86 L336.50 309.62 L336.90 309.22 L337.30 309.65 L337.70 309.63 L338.10 310.26 L338.50 310.17 L338.60 310.30" fill="none" stroke="#111" stroke-width="1.05" stroke-linejoin="round"/>
<line x1="202.50" y1="251.30" x2="202.50" y2="332.10" stroke="#4d4d4d" stroke-width="1" />
<line x1="202.00" y1="331.60" x2="350.00" y2="331.60" stroke="#4d4d4d" stroke-width="1" />
<line x1="200.10" y1="318.57" x2="202.50" y2="318.57" stroke="#333" stroke-width="0.9" />
<text transform="translate(198.50 321.27) scale(1.0 1.15)" font-size="6.0" text-anchor="end" fill="#404040" stroke="#404040" stroke-width="0.1" >0.5</text>
<line x1="200.10" y1="309.50" x2="202.50" y2="309.50" stroke="#333" stroke-width="0.9" />
<text transform="translate(198.50 312.20) scale(1.0 1.15)" font-size="6.0" text-anchor="end" fill="#404040" stroke="#404040" stroke-width="0.1" >1.0</text>
<line x1="200.10" y1="300.43" x2="202.50" y2="300.43" stroke="#333" stroke-width="0.9" />
<text transform="translate(198.50 303.12) scale(1.0 1.15)" font-size="6.0" text-anchor="end" fill="#404040" stroke="#404040" stroke-width="0.1" >1.5</text>
<line x1="200.10" y1="291.35" x2="202.50" y2="291.35" stroke="#333" stroke-width="0.9" />
<text transform="translate(198.50 294.05) scale(1.0 1.15)" font-size="6.0" text-anchor="end" fill="#404040" stroke="#404040" stroke-width="0.1" >2.0</text>
<line x1="200.10" y1="282.27" x2="202.50" y2="282.27" stroke="#333" stroke-width="0.9" />
<text transform="translate(198.50 284.97) scale(1.0 1.15)" font-size="6.0" text-anchor="end" fill="#404040" stroke="#404040" stroke-width="0.1" >2.5</text>
<line x1="200.10" y1="273.20" x2="202.50" y2="273.20" stroke="#333" stroke-width="0.9" />
<text transform="translate(198.50 275.90) scale(1.0 1.15)" font-size="6.0" text-anchor="end" fill="#404040" stroke="#404040" stroke-width="0.1" >3.0</text>
<line x1="200.10" y1="264.12" x2="202.50" y2="264.12" stroke="#333" stroke-width="0.9" />
<text transform="translate(198.50 266.82) scale(1.0 1.15)" font-size="6.0" text-anchor="end" fill="#404040" stroke="#404040" stroke-width="0.1" >3.5</text>
<line x1="208.60" y1="331.60" x2="208.60" y2="333.90" stroke="#333" stroke-width="0.9" />
<text transform="translate(208.60 340.00) scale(1.0 1.12)" font-size="6.25" text-anchor="middle" fill="#404040" stroke="#404040" stroke-width="0.1" >Jan</text>
<line x1="221.00" y1="331.60" x2="221.00" y2="333.90" stroke="#333" stroke-width="0.9" />
<text transform="translate(221.00 340.00) scale(1.0 1.12)" font-size="6.25" text-anchor="middle" fill="#404040" stroke="#404040" stroke-width="0.1" >Feb</text>
<line x1="232.60" y1="331.60" x2="232.60" y2="333.90" stroke="#333" stroke-width="0.9" />
<text transform="translate(232.60 340.00) scale(1.0 1.12)" font-size="6.25" text-anchor="middle" fill="#404040" stroke="#404040" stroke-width="0.1" >Mar</text>
<line x1="245.00" y1="331.60" x2="245.00" y2="333.90" stroke="#333" stroke-width="0.9" />
<text transform="translate(245.00 340.00) scale(1.0 1.12)" font-size="6.25" text-anchor="middle" fill="#404040" stroke="#404040" stroke-width="0.1" >Apr</text>
<line x1="257.00" y1="331.60" x2="257.00" y2="333.90" stroke="#333" stroke-width="0.9" />
<text transform="translate(257.00 340.00) scale(1.0 1.12)" font-size="6.25" text-anchor="middle" fill="#404040" stroke="#404040" stroke-width="0.1" >May</text>
<line x1="269.40" y1="331.60" x2="269.40" y2="333.90" stroke="#333" stroke-width="0.9" />
<text transform="translate(269.40 340.00) scale(1.0 1.12)" font-size="6.25" text-anchor="middle" fill="#404040" stroke="#404040" stroke-width="0.1" >Jun</text>
<line x1="281.40" y1="331.60" x2="281.40" y2="333.90" stroke="#333" stroke-width="0.9" />
<text transform="translate(281.40 340.00) scale(1.0 1.12)" font-size="6.25" text-anchor="middle" fill="#404040" stroke="#404040" stroke-width="0.1" >Jul</text>
<line x1="293.80" y1="331.60" x2="293.80" y2="333.90" stroke="#333" stroke-width="0.9" />
<text transform="translate(293.80 340.00) scale(1.0 1.12)" font-size="6.25" text-anchor="middle" fill="#404040" stroke="#404040" stroke-width="0.1" >Aug</text>
<line x1="306.20" y1="331.60" x2="306.20" y2="333.90" stroke="#333" stroke-width="0.9" />
<text transform="translate(306.20 340.00) scale(1.0 1.12)" font-size="6.25" text-anchor="middle" fill="#404040" stroke="#404040" stroke-width="0.1" >Sep</text>
<line x1="318.20" y1="331.60" x2="318.20" y2="333.90" stroke="#333" stroke-width="0.9" />
<text transform="translate(318.20 340.00) scale(1.0 1.12)" font-size="6.25" text-anchor="middle" fill="#404040" stroke="#404040" stroke-width="0.1" >Oct</text>
<line x1="330.60" y1="331.60" x2="330.60" y2="333.90" stroke="#333" stroke-width="0.9" />
<text transform="translate(330.60 340.00) scale(1.0 1.12)" font-size="6.25" text-anchor="middle" fill="#404040" stroke="#404040" stroke-width="0.1" >Nov</text>
<line x1="342.60" y1="331.60" x2="342.60" y2="333.90" stroke="#333" stroke-width="0.9" />
<text transform="translate(342.60 340.00) scale(1.0 1.12)" font-size="6.25" text-anchor="middle" fill="#404040" stroke="#404040" stroke-width="0.1" >Dec</text>
<text transform="translate(276.25 348.40) scale(1.0 1.12)" font-size="7.3" text-anchor="middle" fill="#111" stroke="#111" stroke-width="0.06" >Assumed date of infection</text>
<text transform="translate(185.0 291.75) rotate(-90) scale(1 1.05)" font-size="7.7" text-anchor="middle" fill="#111" stroke="#111" stroke-width="0.1">R<tspan font-size="5.2" dy="1.2">t</tspan></text>
</g>
</svg>
</body></html>
